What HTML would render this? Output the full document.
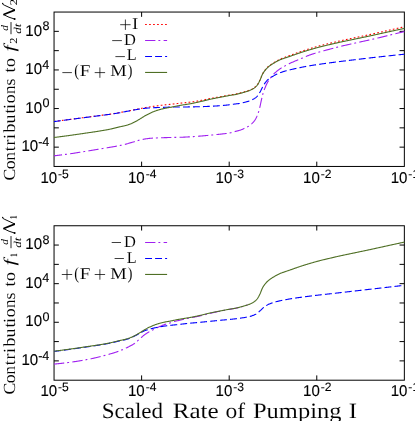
<!DOCTYPE html>
<html><head><meta charset="utf-8"><title>plot</title>
<style>html,body{margin:0;padding:0;background:#fff;}svg{display:block;}</style></head>
<body>
<svg width="415" height="421" viewBox="0 0 415 421" style="text-rendering:geometricPrecision;will-change:transform">
<rect width="415" height="421" fill="#fff"/>
<g stroke="#000" stroke-width="1.0" fill="none"><rect x="54.05" y="12.05" width="350.3" height="154.39999999999998"/><path d="M54.05,31.35h4.8 M404.35,31.35h-4.8"/><path d="M54.05,50.65h4.8 M404.35,50.65h-4.8"/><path d="M54.05,69.95h4.8 M404.35,69.95h-4.8"/><path d="M54.05,89.25h4.8 M404.35,89.25h-4.8"/><path d="M54.05,108.55h4.8 M404.35,108.55h-4.8"/><path d="M54.05,127.85h4.8 M404.35,127.85h-4.8"/><path d="M54.05,147.15h4.8 M404.35,147.15h-4.8"/><path d="M141.62,166.45v-4.8 M141.62,12.05v4.8"/><path d="M229.20,166.45v-4.8 M229.20,12.05v4.8"/><path d="M316.78,166.45v-4.8 M316.78,12.05v4.8"/></g>
<g stroke="#000" stroke-width="1.0" fill="none"><rect x="54.05" y="225.75" width="350.3" height="154.45"/><path d="M54.05,245.06h4.8 M404.35,245.06h-4.8"/><path d="M54.05,264.36h4.8 M404.35,264.36h-4.8"/><path d="M54.05,283.67h4.8 M404.35,283.67h-4.8"/><path d="M54.05,302.98h4.8 M404.35,302.98h-4.8"/><path d="M54.05,322.28h4.8 M404.35,322.28h-4.8"/><path d="M54.05,341.59h4.8 M404.35,341.59h-4.8"/><path d="M54.05,360.89h4.8 M404.35,360.89h-4.8"/><path d="M141.62,380.2v-4.8 M141.62,225.75v4.8"/><path d="M229.20,380.2v-4.8 M229.20,225.75v4.8"/><path d="M316.78,380.2v-4.8 M316.78,225.75v4.8"/></g>
<g fill="none" stroke-width="1.1" stroke-linejoin="round">
<path d="M54.0,121.51 L54.5,121.44 L55.0,121.37 L55.5,121.31 L56.0,121.24 L56.5,121.18 L57.0,121.11 L57.5,121.04 L58.0,120.98 L58.5,120.91 L59.0,120.85 L59.5,120.78 L60.0,120.71 L60.5,120.65 L61.0,120.58 L61.5,120.52 L62.0,120.45 L62.5,120.38 L63.0,120.32 L63.5,120.25 L64.0,120.19 L64.5,120.12 L65.0,120.06 L65.5,119.99 L66.0,119.92 L66.5,119.86 L67.0,119.79 L67.5,119.73 L68.0,119.66 L68.5,119.60 L69.0,119.53 L69.5,119.46 L70.0,119.40 L70.5,119.33 L71.0,119.27 L71.5,119.20 L72.0,119.14 L72.5,119.07 L73.0,119.01 L73.5,118.94 L74.0,118.88 L74.5,118.81 L75.0,118.75 L75.5,118.68 L76.0,118.62 L76.5,118.55 L77.0,118.48 L77.5,118.42 L78.0,118.35 L78.5,118.29 L79.0,118.22 L79.5,118.16 L80.0,118.09 L80.5,118.03 L81.0,117.96 L81.5,117.90 L82.0,117.83 L82.5,117.77 L83.0,117.70 L83.5,117.64 L84.0,117.57 L84.5,117.51 L85.0,117.44 L85.5,117.38 L86.0,117.31 L86.5,117.25 L87.0,117.18 L87.5,117.12 L88.0,117.05 L88.5,116.99 L89.0,116.92 L89.5,116.86 L90.0,116.79 L90.5,116.73 L91.0,116.66 L91.5,116.60 L92.0,116.53 L92.5,116.47 L93.0,116.40 L93.5,116.34 L94.0,116.27 L94.5,116.21 L95.0,116.14 L95.5,116.07 L96.0,116.01 L96.5,115.94 L97.0,115.88 L97.5,115.81 L98.0,115.75 L98.5,115.68 L99.0,115.62 L99.5,115.55 L100.0,115.49 L100.5,115.42 L101.0,115.36 L101.5,115.29 L102.0,115.23 L102.5,115.17 L103.0,115.10 L103.5,115.04 L104.0,114.98 L104.5,114.91 L105.0,114.85 L105.5,114.78 L106.0,114.72 L106.5,114.65 L107.0,114.59 L107.5,114.52 L108.0,114.45 L108.5,114.39 L109.0,114.32 L109.5,114.25 L110.0,114.17 L110.5,114.10 L111.0,114.03 L111.5,113.95 L112.0,113.88 L112.5,113.80 L113.0,113.72 L113.5,113.64 L114.0,113.57 L114.5,113.49 L115.0,113.41 L115.5,113.32 L116.0,113.24 L116.5,113.16 L117.0,113.07 L117.5,112.99 L118.0,112.90 L118.5,112.81 L119.0,112.73 L119.5,112.64 L120.0,112.55 L120.5,112.45 L121.0,112.36 L121.5,112.26 L122.0,112.15 L122.5,112.05 L123.0,111.95 L123.5,111.84 L124.0,111.74 L124.5,111.64 L125.0,111.54 L125.5,111.45 L126.0,111.36 L126.5,111.26 L127.0,111.17 L127.5,111.08 L128.1,110.99 L128.6,110.90 L129.1,110.81 L129.6,110.71 L130.1,110.62 L130.6,110.52 L131.1,110.41 L131.6,110.30 L132.1,110.19 L132.6,110.08 L133.1,109.97 L133.6,109.87 L134.1,109.76 L134.6,109.66 L135.1,109.56 L135.6,109.46 L136.1,109.36 L136.6,109.27 L137.1,109.17 L137.6,109.08 L138.1,108.99 L138.6,108.89 L139.1,108.80 L139.6,108.70 L140.1,108.61 L140.6,108.51 L141.1,108.42 L141.6,108.32 L142.1,108.21 L142.6,108.11 L143.1,108.01 L143.6,107.92 L144.1,107.82 L144.6,107.73 L145.1,107.64 L145.6,107.56 L146.1,107.48 L146.6,107.39 L147.1,107.31 L147.6,107.23 L148.1,107.16 L148.6,107.08 L149.1,107.00 L149.6,106.92 L150.1,106.85 L150.6,106.77 L151.1,106.70 L151.6,106.62 L152.1,106.55 L152.6,106.48 L153.1,106.40 L153.6,106.33 L154.1,106.26 L154.6,106.19 L155.1,106.12 L155.6,106.04 L156.1,105.97 L156.6,105.90 L157.1,105.84 L157.6,105.77 L158.1,105.70 L158.6,105.63 L159.1,105.57 L159.6,105.50 L160.1,105.44 L160.6,105.38 L161.1,105.32 L161.6,105.26 L162.1,105.20 L162.6,105.14 L163.1,105.08 L163.6,105.02 L164.1,104.97 L164.6,104.91 L165.1,104.86 L165.6,104.80 L166.1,104.75 L166.6,104.70 L167.1,104.64 L167.6,104.59 L168.1,104.54 L168.6,104.49 L169.1,104.44 L169.6,104.39 L170.1,104.34 L170.6,104.29 L171.1,104.23 L171.6,104.18 L172.1,104.13 L172.6,104.07 L173.1,104.02 L173.6,103.96 L174.1,103.90 L174.6,103.85 L175.1,103.79 L175.6,103.73 L176.1,103.67 L176.6,103.61 L177.1,103.56 L177.6,103.50 L178.1,103.44 L178.6,103.38 L179.1,103.32 L179.6,103.27 L180.1,103.21 L180.6,103.16 L181.1,103.11 L181.6,103.05 L182.1,103.00 L182.6,102.95 L183.1,102.90 L183.6,102.85 L184.1,102.80 L184.6,102.76 L185.1,102.71 L185.6,102.66 L186.1,102.61 L186.6,102.55 L187.1,102.50 L187.6,102.45 L188.1,102.39 L188.6,102.34 L189.1,102.28 L189.6,102.22 L190.1,102.16 L190.6,102.09 L191.1,102.03 L191.6,101.96 L192.1,101.89 L192.6,101.82 L193.1,101.74 L193.6,101.67 L194.1,101.59 L194.6,101.51 L195.1,101.43 L195.6,101.35 L196.1,101.27 L196.6,101.19 L197.1,101.10 L197.6,101.02 L198.1,100.93 L198.6,100.84 L199.1,100.76 L199.6,100.67 L200.1,100.58 L200.6,100.49 L201.1,100.40 L201.6,100.30 L202.1,100.20 L202.6,100.10 L203.1,100.00 L203.6,99.90 L204.1,99.80 L204.6,99.69 L205.1,99.59 L205.6,99.49 L206.1,99.38 L206.6,99.28 L207.1,99.17 L207.6,99.07 L208.1,98.96 L208.6,98.86 L209.1,98.76 L209.6,98.66 L210.1,98.57 L210.6,98.47 L211.1,98.38 L211.6,98.28 L212.1,98.19 L212.6,98.10 L213.1,98.01 L213.6,97.92 L214.1,97.83 L214.6,97.74 L215.1,97.65 L215.6,97.56 L216.1,97.47 L216.6,97.38 L217.1,97.30 L217.6,97.21 L218.1,97.12 L218.6,97.03 L219.1,96.94 L219.6,96.85 L220.1,96.76 L220.6,96.67 L221.1,96.58 L221.6,96.49 L222.1,96.40 L222.6,96.30 L223.1,96.21 L223.6,96.12 L224.1,96.03 L224.6,95.93 L225.1,95.84 L225.6,95.75 L226.1,95.66 L226.6,95.57 L227.1,95.48 L227.6,95.39 L228.1,95.30 L228.6,95.21 L229.1,95.13 L229.6,95.04 L230.1,94.96 L230.6,94.88 L231.1,94.80 L231.6,94.72 L232.1,94.65 L232.6,94.58 L233.1,94.50 L233.6,94.42 L234.1,94.34 L234.6,94.26 L235.1,94.17 L235.6,94.07 L236.1,93.97 L236.6,93.86 L237.1,93.75 L237.6,93.63 L238.1,93.51 L238.6,93.39 L239.1,93.27 L239.6,93.14 L240.1,93.02 L240.6,92.89 L241.1,92.76 L241.6,92.63 L242.1,92.50 L242.6,92.36 L243.1,92.22 L243.6,92.08 L244.1,91.93 L244.6,91.78 L245.1,91.63 L245.6,91.48 L246.1,91.33 L246.6,91.18 L247.1,91.02 L247.6,90.86 L248.1,90.70 L248.6,90.53 L249.1,90.34 L249.6,90.15 L250.1,89.94 L250.6,89.72 L251.1,89.49 L251.6,89.25 L252.1,88.99 L252.6,88.71 L253.1,88.42 L253.6,88.11 L254.1,87.78 L254.6,87.42 L255.1,87.05 L255.6,86.62 L256.1,86.14 L256.6,85.60 L257.1,85.00 L257.6,84.35 L258.1,83.60 L258.6,82.73 L259.1,81.78 L259.6,80.78 L260.1,79.75 L260.6,78.60 L261.1,77.33 L261.6,76.04 L262.1,74.83 L262.6,73.80 L263.1,72.92 L263.6,72.12 L264.1,71.37 L264.6,70.68 L265.1,70.02 L265.6,69.40 L266.1,68.80 L266.6,68.24 L267.1,67.71 L267.6,67.22 L268.1,66.77 L268.6,66.34 L269.1,65.94 L269.6,65.56 L270.1,65.18 L270.6,64.81 L271.1,64.45 L271.6,64.10 L272.1,63.75 L272.6,63.42 L273.1,63.09 L273.6,62.77 L274.1,62.46 L274.6,62.15 L275.1,61.85 L275.6,61.55 L276.1,61.26 L276.6,60.97 L277.1,60.69 L277.6,60.41 L278.1,60.14 L278.6,59.87 L279.1,59.62 L279.6,59.38 L280.1,59.15 L280.6,58.93 L281.1,58.72 L281.6,58.52 L282.1,58.33 L282.6,58.15 L283.1,57.96 L283.6,57.78 L284.1,57.60 L284.6,57.42 L285.1,57.23 L285.6,57.05 L286.1,56.86 L286.6,56.68 L287.1,56.50 L287.6,56.32 L288.1,56.14 L288.6,55.96 L289.1,55.78 L289.6,55.60 L290.1,55.42 L290.6,55.24 L291.1,55.06 L291.6,54.88 L292.1,54.70 L292.6,54.51 L293.1,54.33 L293.6,54.15 L294.1,53.97 L294.6,53.78 L295.1,53.60 L295.6,53.42 L296.1,53.24 L296.6,53.06 L297.1,52.88 L297.6,52.70 L298.1,52.52 L298.6,52.34 L299.1,52.17 L299.6,52.00 L300.1,51.82 L300.6,51.65 L301.1,51.48 L301.6,51.31 L302.1,51.14 L302.6,50.98 L303.1,50.81 L303.6,50.64 L304.1,50.47 L304.6,50.31 L305.1,50.14 L305.6,49.98 L306.1,49.81 L306.6,49.65 L307.1,49.49 L307.6,49.33 L308.1,49.17 L308.6,49.01 L309.1,48.86 L309.6,48.70 L310.1,48.55 L310.6,48.40 L311.1,48.25 L311.6,48.10 L312.1,47.95 L312.6,47.80 L313.1,47.65 L313.6,47.51 L314.1,47.36 L314.6,47.22 L315.1,47.07 L315.6,46.93 L316.1,46.79 L316.6,46.65 L317.1,46.51 L317.6,46.37 L318.1,46.24 L318.6,46.10 L319.1,45.97 L319.6,45.83 L320.1,45.70 L320.6,45.57 L321.1,45.44 L321.6,45.31 L322.1,45.19 L322.6,45.06 L323.1,44.93 L323.6,44.81 L324.1,44.69 L324.6,44.57 L325.1,44.44 L325.6,44.32 L326.1,44.20 L326.6,44.08 L327.1,43.96 L327.6,43.84 L328.1,43.72 L328.6,43.60 L329.1,43.48 L329.6,43.36 L330.1,43.24 L330.6,43.12 L331.1,43.00 L331.6,42.88 L332.1,42.76 L332.6,42.64 L333.1,42.52 L333.6,42.40 L334.1,42.28 L334.6,42.16 L335.1,42.04 L335.6,41.92 L336.1,41.80 L336.6,41.68 L337.1,41.56 L337.6,41.45 L338.1,41.33 L338.6,41.22 L339.1,41.10 L339.6,40.99 L340.1,40.87 L340.6,40.76 L341.1,40.65 L341.6,40.54 L342.1,40.43 L342.6,40.32 L343.1,40.21 L343.6,40.11 L344.1,40.00 L344.6,39.89 L345.1,39.79 L345.6,39.68 L346.1,39.57 L346.6,39.47 L347.1,39.36 L347.6,39.26 L348.1,39.15 L348.6,39.05 L349.1,38.94 L349.6,38.83 L350.1,38.73 L350.6,38.62 L351.1,38.51 L351.6,38.41 L352.1,38.30 L352.6,38.19 L353.1,38.09 L353.6,37.98 L354.1,37.88 L354.6,37.77 L355.1,37.66 L355.6,37.56 L356.1,37.45 L356.6,37.35 L357.1,37.24 L357.6,37.13 L358.1,37.03 L358.6,36.92 L359.1,36.82 L359.6,36.71 L360.1,36.60 L360.6,36.50 L361.1,36.39 L361.6,36.29 L362.1,36.18 L362.6,36.08 L363.1,35.97 L363.6,35.87 L364.1,35.76 L364.6,35.65 L365.1,35.55 L365.6,35.44 L366.1,35.34 L366.6,35.23 L367.1,35.12 L367.6,35.02 L368.1,34.91 L368.6,34.80 L369.1,34.70 L369.6,34.59 L370.1,34.48 L370.6,34.37 L371.1,34.26 L371.6,34.15 L372.1,34.04 L372.6,33.93 L373.1,33.82 L373.6,33.71 L374.1,33.60 L374.6,33.49 L375.1,33.38 L375.6,33.27 L376.1,33.15 L376.6,33.04 L377.1,32.93 L377.6,32.82 L378.1,32.71 L378.6,32.59 L379.1,32.48 L379.6,32.37 L380.1,32.26 L380.6,32.14 L381.1,32.03 L381.6,31.92 L382.1,31.80 L382.6,31.69 L383.1,31.57 L383.6,31.46 L384.1,31.34 L384.6,31.23 L385.1,31.11 L385.6,31.00 L386.1,30.88 L386.6,30.77 L387.1,30.65 L387.6,30.54 L388.1,30.42 L388.6,30.31 L389.1,30.20 L389.6,30.08 L390.1,29.97 L390.6,29.86 L391.1,29.74 L391.6,29.63 L392.1,29.52 L392.6,29.41 L393.1,29.29 L393.6,29.18 L394.1,29.07 L394.6,28.96 L395.1,28.85 L395.6,28.74 L396.1,28.62 L396.6,28.51 L397.1,28.40 L397.6,28.29 L398.1,28.18 L398.6,28.07 L399.1,27.96 L399.6,27.85 L400.1,27.74 L400.6,27.63 L401.1,27.51 L401.6,27.40 L402.1,27.29 L402.6,27.18 L403.1,27.08 L403.6,26.97 L404.4,26.79" stroke="#ff0000" stroke-dasharray="1.7 2.3"/>
<path d="M54.0,155.80 L54.5,155.74 L55.0,155.69 L55.5,155.63 L56.0,155.58 L56.5,155.52 L57.0,155.46 L57.5,155.40 L58.0,155.34 L58.5,155.28 L59.0,155.22 L59.5,155.16 L60.0,155.10 L60.5,155.04 L61.0,154.98 L61.5,154.92 L62.0,154.86 L62.5,154.79 L63.0,154.73 L63.5,154.67 L64.0,154.60 L64.5,154.54 L65.0,154.47 L65.5,154.41 L66.0,154.34 L66.5,154.27 L67.0,154.21 L67.5,154.14 L68.0,154.07 L68.5,154.00 L69.0,153.93 L69.5,153.86 L70.0,153.79 L70.5,153.72 L71.0,153.65 L71.5,153.58 L72.0,153.51 L72.5,153.43 L73.0,153.36 L73.5,153.28 L74.0,153.21 L74.5,153.13 L75.0,153.05 L75.5,152.97 L76.0,152.89 L76.5,152.81 L77.0,152.74 L77.5,152.65 L78.0,152.57 L78.5,152.49 L79.0,152.41 L79.5,152.33 L80.0,152.25 L80.5,152.17 L81.0,152.08 L81.5,152.00 L82.0,151.92 L82.5,151.83 L83.0,151.75 L83.5,151.67 L84.0,151.58 L84.5,151.50 L85.0,151.42 L85.5,151.33 L86.0,151.25 L86.5,151.17 L87.0,151.08 L87.5,151.00 L88.0,150.92 L88.5,150.84 L89.0,150.75 L89.5,150.67 L90.0,150.59 L90.5,150.51 L91.0,150.43 L91.5,150.35 L92.0,150.27 L92.5,150.19 L93.0,150.11 L93.5,150.02 L94.0,149.94 L94.5,149.86 L95.0,149.78 L95.5,149.70 L96.0,149.62 L96.5,149.54 L97.0,149.46 L97.5,149.38 L98.0,149.29 L98.5,149.21 L99.0,149.13 L99.5,149.05 L100.0,148.97 L100.5,148.89 L101.0,148.80 L101.5,148.72 L102.0,148.64 L102.5,148.56 L103.0,148.47 L103.5,148.39 L104.0,148.31 L104.5,148.23 L105.0,148.14 L105.5,148.06 L106.0,147.97 L106.5,147.89 L107.0,147.80 L107.5,147.72 L108.0,147.63 L108.5,147.55 L109.0,147.46 L109.5,147.38 L110.0,147.29 L110.5,147.21 L111.0,147.12 L111.5,147.03 L112.0,146.95 L112.5,146.86 L113.0,146.77 L113.5,146.69 L114.0,146.60 L114.5,146.51 L115.0,146.43 L115.5,146.34 L116.0,146.25 L116.5,146.16 L117.0,146.06 L117.5,145.97 L118.0,145.88 L118.5,145.78 L119.0,145.69 L119.5,145.59 L120.0,145.49 L120.5,145.39 L121.0,145.29 L121.5,145.18 L122.0,145.08 L122.5,144.97 L123.0,144.86 L123.5,144.75 L124.0,144.63 L124.5,144.51 L125.0,144.39 L125.5,144.25 L126.0,144.11 L126.5,143.97 L127.0,143.81 L127.5,143.66 L128.1,143.50 L128.6,143.34 L129.1,143.19 L129.6,143.03 L130.1,142.89 L130.6,142.74 L131.1,142.60 L131.6,142.46 L132.1,142.32 L132.6,142.19 L133.1,142.05 L133.6,141.91 L134.1,141.77 L134.6,141.63 L135.1,141.49 L135.6,141.34 L136.1,141.18 L136.6,141.02 L137.1,140.86 L137.6,140.70 L138.1,140.55 L138.6,140.39 L139.1,140.25 L139.6,140.11 L140.1,139.99 L140.6,139.87 L141.1,139.76 L141.6,139.65 L142.1,139.54 L142.6,139.44 L143.1,139.35 L143.6,139.25 L144.1,139.16 L144.6,139.08 L145.1,138.99 L145.6,138.91 L146.1,138.83 L146.6,138.75 L147.1,138.67 L147.6,138.59 L148.1,138.52 L148.6,138.45 L149.1,138.39 L149.6,138.34 L150.1,138.30 L150.6,138.26 L151.1,138.22 L151.6,138.19 L152.1,138.15 L152.6,138.12 L153.1,138.10 L153.6,138.07 L154.1,138.05 L154.6,138.02 L155.1,138.00 L155.6,137.97 L156.1,137.95 L156.6,137.93 L157.1,137.91 L157.6,137.89 L158.1,137.87 L158.6,137.85 L159.1,137.83 L159.6,137.82 L160.1,137.80 L160.6,137.78 L161.1,137.76 L161.6,137.75 L162.1,137.73 L162.6,137.71 L163.1,137.70 L163.6,137.68 L164.1,137.67 L164.6,137.65 L165.1,137.63 L165.6,137.62 L166.1,137.61 L166.6,137.59 L167.1,137.58 L167.6,137.56 L168.1,137.55 L168.6,137.54 L169.1,137.52 L169.6,137.51 L170.1,137.50 L170.6,137.49 L171.1,137.48 L171.6,137.47 L172.1,137.46 L172.6,137.45 L173.1,137.44 L173.6,137.43 L174.1,137.42 L174.6,137.41 L175.1,137.40 L175.6,137.40 L176.1,137.39 L176.6,137.38 L177.1,137.37 L177.6,137.36 L178.1,137.35 L178.6,137.34 L179.1,137.33 L179.6,137.31 L180.1,137.30 L180.6,137.28 L181.1,137.27 L181.6,137.25 L182.1,137.23 L182.6,137.21 L183.1,137.18 L183.6,137.16 L184.1,137.14 L184.6,137.11 L185.1,137.08 L185.6,137.06 L186.1,137.03 L186.6,137.00 L187.1,136.97 L187.6,136.94 L188.1,136.91 L188.6,136.89 L189.1,136.86 L189.6,136.83 L190.1,136.80 L190.6,136.77 L191.1,136.74 L191.6,136.71 L192.1,136.67 L192.6,136.64 L193.1,136.61 L193.6,136.58 L194.1,136.54 L194.6,136.51 L195.1,136.47 L195.6,136.44 L196.1,136.40 L196.6,136.36 L197.1,136.33 L197.6,136.29 L198.1,136.25 L198.6,136.21 L199.1,136.17 L199.6,136.14 L200.1,136.10 L200.6,136.06 L201.1,136.02 L201.6,135.97 L202.1,135.93 L202.6,135.89 L203.1,135.85 L203.6,135.80 L204.1,135.76 L204.6,135.71 L205.1,135.67 L205.6,135.62 L206.1,135.57 L206.6,135.53 L207.1,135.48 L207.6,135.43 L208.1,135.38 L208.6,135.34 L209.1,135.29 L209.6,135.24 L210.1,135.20 L210.6,135.15 L211.1,135.10 L211.6,135.05 L212.1,135.01 L212.6,134.96 L213.1,134.91 L213.6,134.86 L214.1,134.82 L214.6,134.77 L215.1,134.72 L215.6,134.67 L216.1,134.62 L216.6,134.57 L217.1,134.52 L217.6,134.47 L218.1,134.41 L218.6,134.36 L219.1,134.31 L219.6,134.25 L220.1,134.19 L220.6,134.14 L221.1,134.08 L221.6,134.03 L222.1,133.97 L222.6,133.92 L223.1,133.86 L223.6,133.81 L224.1,133.75 L224.6,133.69 L225.1,133.63 L225.6,133.57 L226.1,133.51 L226.6,133.44 L227.1,133.37 L227.6,133.30 L228.1,133.23 L228.6,133.15 L229.1,133.07 L229.6,132.98 L230.1,132.89 L230.6,132.79 L231.1,132.67 L231.6,132.53 L232.1,132.39 L232.6,132.24 L233.1,132.08 L233.6,131.93 L234.1,131.77 L234.6,131.63 L235.1,131.49 L235.6,131.36 L236.1,131.23 L236.6,131.11 L237.1,130.99 L237.6,130.87 L238.1,130.75 L238.6,130.62 L239.1,130.49 L239.6,130.34 L240.1,130.18 L240.6,130.01 L241.1,129.82 L241.6,129.62 L242.1,129.40 L242.6,129.18 L243.1,128.95 L243.6,128.71 L244.1,128.47 L244.6,128.22 L245.1,127.98 L245.6,127.73 L246.1,127.48 L246.6,127.23 L247.1,126.98 L247.6,126.71 L248.1,126.44 L248.6,126.15 L249.1,125.84 L249.6,125.51 L250.1,125.16 L250.6,124.78 L251.1,124.35 L251.6,123.89 L252.1,123.40 L252.6,122.88 L253.1,122.35 L253.6,121.79 L254.1,121.20 L254.6,120.55 L255.1,119.82 L255.6,118.99 L256.1,118.04 L256.6,117.00 L257.1,115.89 L257.6,114.68 L258.1,113.34 L258.6,111.84 L259.1,110.11 L259.6,108.17 L260.1,106.09 L260.6,103.74 L261.1,101.38 L261.6,99.17 L262.1,97.10 L262.6,95.10 L263.1,93.21 L263.6,91.55 L264.1,90.14 L264.6,88.88 L265.1,87.68 L265.6,86.48 L266.1,85.31 L266.6,84.19 L267.1,83.15 L267.6,82.21 L268.1,81.38 L268.6,80.62 L269.1,79.91 L269.6,79.22 L270.1,78.53 L270.6,77.83 L271.1,77.14 L271.6,76.47 L272.1,75.83 L272.6,75.24 L273.1,74.69 L273.6,74.18 L274.1,73.68 L274.6,73.21 L275.1,72.76 L275.6,72.31 L276.1,71.87 L276.6,71.44 L277.1,71.03 L277.6,70.62 L278.1,70.22 L278.6,69.84 L279.1,69.47 L279.6,69.11 L280.1,68.77 L280.6,68.44 L281.1,68.12 L281.6,67.82 L282.1,67.53 L282.6,67.24 L283.1,66.97 L283.6,66.69 L284.1,66.42 L284.6,66.15 L285.1,65.87 L285.6,65.60 L286.1,65.33 L286.6,65.06 L287.1,64.79 L287.6,64.53 L288.1,64.27 L288.6,64.01 L289.1,63.76 L289.6,63.52 L290.1,63.28 L290.6,63.04 L291.1,62.81 L291.6,62.59 L292.1,62.37 L292.6,62.15 L293.1,61.93 L293.6,61.72 L294.1,61.51 L294.6,61.29 L295.1,61.08 L295.6,60.86 L296.1,60.65 L296.6,60.44 L297.1,60.23 L297.6,60.02 L298.1,59.81 L298.6,59.60 L299.1,59.39 L299.6,59.19 L300.1,58.98 L300.6,58.77 L301.1,58.56 L301.6,58.35 L302.1,58.13 L302.6,57.92 L303.1,57.70 L303.6,57.49 L304.1,57.28 L304.6,57.06 L305.1,56.85 L305.6,56.64 L306.1,56.43 L306.6,56.23 L307.1,56.02 L307.6,55.82 L308.1,55.63 L308.6,55.43 L309.1,55.24 L309.6,55.06 L310.1,54.88 L310.6,54.71 L311.1,54.54 L311.6,54.37 L312.1,54.20 L312.6,54.04 L313.1,53.88 L313.6,53.72 L314.1,53.56 L314.6,53.41 L315.1,53.25 L315.6,53.10 L316.1,52.95 L316.6,52.80 L317.1,52.66 L317.6,52.51 L318.1,52.36 L318.6,52.22 L319.1,52.07 L319.6,51.93 L320.1,51.79 L320.6,51.64 L321.1,51.50 L321.6,51.36 L322.1,51.22 L322.6,51.08 L323.1,50.95 L323.6,50.81 L324.1,50.67 L324.6,50.54 L325.1,50.41 L325.6,50.27 L326.1,50.14 L326.6,50.01 L327.1,49.88 L327.6,49.75 L328.1,49.61 L328.6,49.48 L329.1,49.35 L329.6,49.22 L330.1,49.09 L330.6,48.95 L331.1,48.82 L331.6,48.69 L332.1,48.56 L332.6,48.42 L333.1,48.29 L333.6,48.16 L334.1,48.02 L334.6,47.89 L335.1,47.76 L335.6,47.63 L336.1,47.50 L336.6,47.37 L337.1,47.24 L337.6,47.11 L338.1,46.99 L338.6,46.86 L339.1,46.73 L339.6,46.61 L340.1,46.49 L340.6,46.37 L341.1,46.25 L341.6,46.13 L342.1,46.01 L342.6,45.89 L343.1,45.77 L343.6,45.66 L344.1,45.54 L344.6,45.43 L345.1,45.31 L345.6,45.20 L346.1,45.09 L346.6,44.97 L347.1,44.86 L347.6,44.75 L348.1,44.64 L348.6,44.53 L349.1,44.41 L349.6,44.30 L350.1,44.19 L350.6,44.08 L351.1,43.96 L351.6,43.85 L352.1,43.74 L352.6,43.63 L353.1,43.52 L353.6,43.41 L354.1,43.30 L354.6,43.19 L355.1,43.08 L355.6,42.97 L356.1,42.86 L356.6,42.76 L357.1,42.65 L357.6,42.54 L358.1,42.43 L358.6,42.32 L359.1,42.21 L359.6,42.10 L360.1,41.99 L360.6,41.88 L361.1,41.77 L361.6,41.66 L362.1,41.55 L362.6,41.44 L363.1,41.33 L363.6,41.22 L364.1,41.11 L364.6,41.00 L365.1,40.90 L365.6,40.79 L366.1,40.68 L366.6,40.57 L367.1,40.46 L367.6,40.35 L368.1,40.24 L368.6,40.12 L369.1,40.01 L369.6,39.90 L370.1,39.79 L370.6,39.68 L371.1,39.56 L371.6,39.45 L372.1,39.34 L372.6,39.23 L373.1,39.11 L373.6,39.00 L374.1,38.89 L374.6,38.77 L375.1,38.66 L375.6,38.54 L376.1,38.43 L376.6,38.31 L377.1,38.20 L377.6,38.08 L378.1,37.96 L378.6,37.84 L379.1,37.73 L379.6,37.61 L380.1,37.49 L380.6,37.37 L381.1,37.25 L381.6,37.12 L382.1,37.00 L382.6,36.87 L383.1,36.75 L383.6,36.62 L384.1,36.50 L384.6,36.37 L385.1,36.24 L385.6,36.12 L386.1,35.99 L386.6,35.86 L387.1,35.73 L387.6,35.61 L388.1,35.48 L388.6,35.36 L389.1,35.23 L389.6,35.11 L390.1,34.99 L390.6,34.87 L391.1,34.74 L391.6,34.62 L392.1,34.50 L392.6,34.38 L393.1,34.26 L393.6,34.14 L394.1,34.02 L394.6,33.90 L395.1,33.78 L395.6,33.66 L396.1,33.54 L396.6,33.42 L397.1,33.30 L397.6,33.19 L398.1,33.07 L398.6,32.95 L399.1,32.83 L399.6,32.71 L400.1,32.60 L400.6,32.48 L401.1,32.36 L401.6,32.25 L402.1,32.13 L402.6,32.01 L403.1,31.90 L403.6,31.78 L404.4,31.60" stroke="#a020f0" stroke-dasharray="10.3 3 1.9 3.3" stroke-dashoffset="2.2"/>
<path d="M54.0,121.60 L54.5,121.53 L55.0,121.47 L55.5,121.40 L56.0,121.34 L56.5,121.27 L57.0,121.20 L57.5,121.14 L58.0,121.07 L58.5,121.01 L59.0,120.94 L59.5,120.87 L60.0,120.81 L60.5,120.74 L61.0,120.68 L61.5,120.61 L62.0,120.54 L62.5,120.48 L63.0,120.41 L63.5,120.35 L64.0,120.28 L64.5,120.21 L65.0,120.15 L65.5,120.08 L66.0,120.02 L66.5,119.95 L67.0,119.89 L67.5,119.82 L68.0,119.76 L68.5,119.69 L69.0,119.62 L69.5,119.56 L70.0,119.49 L70.5,119.43 L71.0,119.36 L71.5,119.30 L72.0,119.23 L72.5,119.17 L73.0,119.10 L73.5,119.04 L74.0,118.97 L74.5,118.91 L75.0,118.84 L75.5,118.78 L76.0,118.71 L76.5,118.65 L77.0,118.58 L77.5,118.52 L78.0,118.45 L78.5,118.39 L79.0,118.32 L79.5,118.26 L80.0,118.19 L80.5,118.13 L81.0,118.06 L81.5,118.00 L82.0,117.93 L82.5,117.87 L83.0,117.80 L83.5,117.74 L84.0,117.67 L84.5,117.61 L85.0,117.54 L85.5,117.48 L86.0,117.41 L86.5,117.35 L87.0,117.28 L87.5,117.22 L88.0,117.15 L88.5,117.09 L89.0,117.02 L89.5,116.96 L90.0,116.89 L90.5,116.83 L91.0,116.76 L91.5,116.70 L92.0,116.63 L92.5,116.57 L93.0,116.50 L93.5,116.44 L94.0,116.37 L94.5,116.31 L95.0,116.24 L95.5,116.18 L96.0,116.11 L96.5,116.05 L97.0,115.98 L97.5,115.92 L98.0,115.85 L98.5,115.79 L99.0,115.72 L99.5,115.66 L100.0,115.59 L100.5,115.53 L101.0,115.46 L101.5,115.40 L102.0,115.34 L102.5,115.28 L103.0,115.21 L103.5,115.15 L104.0,115.09 L104.5,115.02 L105.0,114.96 L105.5,114.90 L106.0,114.83 L106.5,114.77 L107.0,114.70 L107.5,114.64 L108.0,114.57 L108.5,114.50 L109.0,114.43 L109.5,114.36 L110.0,114.29 L110.5,114.22 L111.0,114.15 L111.5,114.07 L112.0,114.00 L112.5,113.93 L113.0,113.85 L113.5,113.77 L114.0,113.70 L114.5,113.62 L115.0,113.54 L115.5,113.46 L116.0,113.38 L116.5,113.29 L117.0,113.21 L117.5,113.13 L118.0,113.04 L118.5,112.96 L119.0,112.87 L119.5,112.78 L120.0,112.69 L120.5,112.60 L121.0,112.50 L121.5,112.40 L122.0,112.30 L122.5,112.20 L123.0,112.09 L123.5,111.99 L124.0,111.89 L124.5,111.79 L125.0,111.69 L125.5,111.60 L126.0,111.51 L126.5,111.42 L127.0,111.33 L127.5,111.24 L128.1,111.15 L128.6,111.07 L129.1,110.98 L129.6,110.88 L130.1,110.79 L130.6,110.69 L131.1,110.59 L131.6,110.49 L132.1,110.39 L132.6,110.28 L133.1,110.18 L133.6,110.08 L134.1,109.98 L134.6,109.88 L135.1,109.79 L135.6,109.70 L136.1,109.62 L136.6,109.54 L137.1,109.45 L137.6,109.37 L138.1,109.30 L138.6,109.22 L139.1,109.14 L139.6,109.07 L140.1,108.99 L140.6,108.92 L141.1,108.84 L141.6,108.76 L142.1,108.69 L142.6,108.61 L143.1,108.54 L143.6,108.47 L144.1,108.41 L144.6,108.35 L145.1,108.29 L145.6,108.25 L146.1,108.20 L146.6,108.15 L147.1,108.11 L147.6,108.07 L148.1,108.03 L148.6,108.00 L149.1,107.96 L149.6,107.93 L150.1,107.90 L150.6,107.87 L151.1,107.84 L151.6,107.81 L152.1,107.79 L152.6,107.76 L153.1,107.74 L153.6,107.71 L154.1,107.69 L154.6,107.67 L155.1,107.65 L155.6,107.63 L156.1,107.60 L156.6,107.58 L157.1,107.56 L157.6,107.54 L158.1,107.52 L158.6,107.50 L159.1,107.48 L159.6,107.47 L160.1,107.45 L160.6,107.43 L161.1,107.42 L161.6,107.40 L162.1,107.39 L162.6,107.37 L163.1,107.36 L163.6,107.35 L164.1,107.33 L164.6,107.31 L165.1,107.30 L165.6,107.28 L166.1,107.26 L166.6,107.23 L167.1,107.21 L167.6,107.19 L168.1,107.16 L168.6,107.14 L169.1,107.12 L169.6,107.11 L170.1,107.10 L170.6,107.09 L171.1,107.08 L171.6,107.08 L172.1,107.07 L172.6,107.06 L173.1,107.06 L173.6,107.05 L174.1,107.05 L174.6,107.04 L175.1,107.04 L175.6,107.04 L176.1,107.03 L176.6,107.03 L177.1,107.03 L177.6,107.02 L178.1,107.02 L178.6,107.01 L179.1,107.01 L179.6,107.00 L180.1,107.00 L180.6,106.99 L181.1,106.99 L181.6,106.99 L182.1,106.98 L182.6,106.98 L183.1,106.97 L183.6,106.97 L184.1,106.96 L184.6,106.96 L185.1,106.95 L185.6,106.95 L186.1,106.94 L186.6,106.94 L187.1,106.93 L187.6,106.93 L188.1,106.92 L188.6,106.92 L189.1,106.91 L189.6,106.91 L190.1,106.90 L190.6,106.89 L191.1,106.89 L191.6,106.88 L192.1,106.87 L192.6,106.86 L193.1,106.85 L193.6,106.84 L194.1,106.84 L194.6,106.83 L195.1,106.82 L195.6,106.81 L196.1,106.79 L196.6,106.78 L197.1,106.77 L197.6,106.76 L198.1,106.75 L198.6,106.74 L199.1,106.72 L199.6,106.71 L200.1,106.70 L200.6,106.68 L201.1,106.67 L201.6,106.65 L202.1,106.64 L202.6,106.62 L203.1,106.60 L203.6,106.58 L204.1,106.56 L204.6,106.55 L205.1,106.52 L205.6,106.50 L206.1,106.48 L206.6,106.46 L207.1,106.44 L207.6,106.42 L208.1,106.39 L208.6,106.37 L209.1,106.35 L209.6,106.32 L210.1,106.30 L210.6,106.27 L211.1,106.25 L211.6,106.22 L212.1,106.20 L212.6,106.17 L213.1,106.14 L213.6,106.12 L214.1,106.09 L214.6,106.06 L215.1,106.03 L215.6,106.00 L216.1,105.97 L216.6,105.94 L217.1,105.91 L217.6,105.87 L218.1,105.84 L218.6,105.81 L219.1,105.77 L219.6,105.73 L220.1,105.70 L220.6,105.66 L221.1,105.62 L221.6,105.58 L222.1,105.53 L222.6,105.49 L223.1,105.44 L223.6,105.40 L224.1,105.35 L224.6,105.30 L225.1,105.25 L225.6,105.20 L226.1,105.15 L226.6,105.09 L227.1,105.04 L227.6,104.98 L228.1,104.93 L228.6,104.87 L229.1,104.81 L229.6,104.75 L230.1,104.69 L230.6,104.63 L231.1,104.56 L231.6,104.50 L232.1,104.42 L232.6,104.35 L233.1,104.27 L233.6,104.20 L234.1,104.13 L234.6,104.06 L235.1,103.99 L235.6,103.93 L236.1,103.87 L236.6,103.82 L237.1,103.77 L237.6,103.71 L238.1,103.66 L238.6,103.60 L239.1,103.54 L239.6,103.47 L240.1,103.39 L240.6,103.30 L241.1,103.21 L241.6,103.10 L242.1,102.98 L242.6,102.85 L243.1,102.72 L243.6,102.59 L244.1,102.46 L244.6,102.32 L245.1,102.19 L245.6,102.05 L246.1,101.92 L246.6,101.79 L247.1,101.65 L247.6,101.51 L248.1,101.36 L248.6,101.20 L249.1,101.04 L249.6,100.87 L250.1,100.68 L250.6,100.48 L251.1,100.27 L251.6,100.05 L252.1,99.81 L252.6,99.56 L253.1,99.29 L253.6,99.01 L254.1,98.71 L254.6,98.40 L255.1,98.07 L255.6,97.71 L256.1,97.31 L256.6,96.87 L257.1,96.38 L257.6,95.84 L258.1,95.20 L258.6,94.46 L259.1,93.64 L259.6,92.78 L260.1,91.91 L260.6,91.00 L261.1,90.02 L261.6,89.02 L262.1,88.04 L262.6,87.11 L263.1,86.21 L263.6,85.32 L264.1,84.47 L264.6,83.66 L265.1,82.93 L265.6,82.25 L266.1,81.60 L266.6,81.00 L267.1,80.45 L267.6,79.95 L268.1,79.52 L268.6,79.12 L269.1,78.75 L269.6,78.41 L270.1,78.07 L270.6,77.73 L271.1,77.40 L271.6,77.09 L272.1,76.77 L272.6,76.47 L273.1,76.18 L273.6,75.89 L274.1,75.61 L274.6,75.34 L275.1,75.07 L275.6,74.82 L276.1,74.57 L276.6,74.32 L277.1,74.08 L277.6,73.85 L278.1,73.62 L278.6,73.40 L279.1,73.19 L279.6,72.98 L280.1,72.78 L280.6,72.59 L281.1,72.40 L281.6,72.22 L282.1,72.04 L282.6,71.87 L283.1,71.71 L283.6,71.54 L284.1,71.39 L284.6,71.23 L285.1,71.09 L285.6,70.94 L286.1,70.80 L286.6,70.66 L287.1,70.53 L287.6,70.40 L288.1,70.28 L288.6,70.15 L289.1,70.03 L289.6,69.91 L290.1,69.79 L290.6,69.67 L291.1,69.55 L291.6,69.43 L292.1,69.32 L292.6,69.20 L293.1,69.09 L293.6,68.98 L294.1,68.86 L294.6,68.75 L295.1,68.64 L295.6,68.53 L296.1,68.43 L296.6,68.32 L297.1,68.21 L297.6,68.11 L298.1,68.00 L298.6,67.90 L299.1,67.79 L299.6,67.69 L300.1,67.59 L300.6,67.49 L301.1,67.39 L301.6,67.29 L302.1,67.19 L302.6,67.08 L303.1,66.99 L303.6,66.89 L304.1,66.79 L304.6,66.69 L305.1,66.60 L305.6,66.50 L306.1,66.41 L306.6,66.31 L307.1,66.22 L307.6,66.13 L308.1,66.04 L308.6,65.95 L309.1,65.86 L309.6,65.78 L310.1,65.69 L310.6,65.61 L311.1,65.53 L311.6,65.45 L312.1,65.37 L312.6,65.29 L313.1,65.21 L313.6,65.14 L314.1,65.06 L314.6,64.99 L315.1,64.91 L315.6,64.84 L316.1,64.77 L316.6,64.70 L317.1,64.62 L317.6,64.55 L318.1,64.48 L318.6,64.41 L319.1,64.34 L319.6,64.27 L320.1,64.19 L320.6,64.12 L321.1,64.05 L321.6,63.98 L322.1,63.91 L322.6,63.83 L323.1,63.76 L323.6,63.69 L324.1,63.62 L324.6,63.55 L325.1,63.48 L325.6,63.41 L326.1,63.34 L326.6,63.27 L327.1,63.20 L327.6,63.13 L328.1,63.06 L328.6,63.00 L329.1,62.93 L329.6,62.86 L330.1,62.79 L330.6,62.73 L331.1,62.66 L331.6,62.59 L332.1,62.53 L332.6,62.46 L333.1,62.39 L333.6,62.33 L334.1,62.26 L334.6,62.20 L335.1,62.13 L335.6,62.07 L336.1,62.00 L336.6,61.94 L337.1,61.87 L337.6,61.81 L338.1,61.75 L338.6,61.68 L339.1,61.62 L339.6,61.56 L340.1,61.49 L340.6,61.43 L341.1,61.37 L341.6,61.31 L342.1,61.25 L342.6,61.19 L343.1,61.13 L343.6,61.07 L344.1,61.01 L344.6,60.95 L345.1,60.89 L345.6,60.83 L346.1,60.77 L346.6,60.71 L347.1,60.65 L347.6,60.59 L348.1,60.53 L348.6,60.47 L349.1,60.41 L349.6,60.35 L350.1,60.29 L350.6,60.23 L351.1,60.17 L351.6,60.11 L352.1,60.05 L352.6,59.99 L353.1,59.93 L353.6,59.87 L354.1,59.81 L354.6,59.75 L355.1,59.69 L355.6,59.63 L356.1,59.57 L356.6,59.51 L357.1,59.45 L357.6,59.39 L358.1,59.33 L358.6,59.27 L359.1,59.21 L359.6,59.15 L360.1,59.09 L360.6,59.03 L361.1,58.97 L361.6,58.91 L362.1,58.85 L362.6,58.79 L363.1,58.73 L363.6,58.67 L364.1,58.61 L364.6,58.55 L365.1,58.49 L365.6,58.43 L366.1,58.37 L366.6,58.31 L367.1,58.25 L367.6,58.19 L368.1,58.13 L368.6,58.07 L369.1,58.01 L369.6,57.95 L370.1,57.89 L370.6,57.84 L371.1,57.78 L371.6,57.72 L372.1,57.67 L372.6,57.61 L373.1,57.56 L373.6,57.50 L374.1,57.45 L374.6,57.39 L375.1,57.34 L375.6,57.28 L376.1,57.23 L376.6,57.18 L377.1,57.12 L377.6,57.07 L378.1,57.01 L378.6,56.96 L379.1,56.90 L379.6,56.85 L380.1,56.79 L380.6,56.74 L381.1,56.68 L381.6,56.63 L382.1,56.57 L382.6,56.52 L383.1,56.46 L383.6,56.41 L384.1,56.35 L384.6,56.30 L385.1,56.24 L385.6,56.19 L386.1,56.13 L386.6,56.08 L387.1,56.02 L387.6,55.97 L388.1,55.91 L388.6,55.86 L389.1,55.80 L389.6,55.75 L390.1,55.69 L390.6,55.64 L391.1,55.59 L391.6,55.53 L392.1,55.48 L392.6,55.43 L393.1,55.37 L393.6,55.32 L394.1,55.27 L394.6,55.22 L395.1,55.16 L395.6,55.11 L396.1,55.06 L396.6,55.00 L397.1,54.95 L397.6,54.90 L398.1,54.85 L398.6,54.80 L399.1,54.74 L399.6,54.69 L400.1,54.64 L400.6,54.59 L401.1,54.54 L401.6,54.49 L402.1,54.43 L402.6,54.38 L403.1,54.33 L403.6,54.28 L404.4,54.20" stroke="#0000ff" stroke-dasharray="6.9 3.1"/>
<path d="M54.0,137.50 L54.5,137.44 L55.0,137.37 L55.5,137.31 L56.0,137.25 L56.5,137.18 L57.0,137.12 L57.5,137.06 L58.0,136.99 L58.5,136.93 L59.0,136.86 L59.5,136.80 L60.0,136.73 L60.5,136.67 L61.0,136.60 L61.5,136.54 L62.0,136.47 L62.5,136.40 L63.0,136.34 L63.5,136.27 L64.0,136.21 L64.5,136.14 L65.0,136.07 L65.5,136.01 L66.0,135.94 L66.5,135.87 L67.0,135.80 L67.5,135.74 L68.0,135.67 L68.5,135.60 L69.0,135.53 L69.5,135.46 L70.0,135.39 L70.5,135.32 L71.0,135.25 L71.5,135.19 L72.0,135.12 L72.5,135.05 L73.0,134.97 L73.5,134.90 L74.0,134.83 L74.5,134.76 L75.0,134.69 L75.5,134.62 L76.0,134.55 L76.5,134.48 L77.0,134.40 L77.5,134.33 L78.0,134.26 L78.5,134.19 L79.0,134.11 L79.5,134.04 L80.0,133.97 L80.5,133.89 L81.0,133.82 L81.5,133.75 L82.0,133.67 L82.5,133.60 L83.0,133.53 L83.5,133.45 L84.0,133.38 L84.5,133.31 L85.0,133.23 L85.5,133.16 L86.0,133.08 L86.5,133.01 L87.0,132.94 L87.5,132.86 L88.0,132.79 L88.5,132.71 L89.0,132.64 L89.5,132.57 L90.0,132.49 L90.5,132.42 L91.0,132.35 L91.5,132.27 L92.0,132.20 L92.5,132.13 L93.0,132.05 L93.5,131.98 L94.0,131.91 L94.5,131.84 L95.0,131.76 L95.5,131.69 L96.0,131.61 L96.5,131.54 L97.0,131.46 L97.5,131.39 L98.0,131.31 L98.5,131.23 L99.0,131.15 L99.5,131.07 L100.0,130.99 L100.5,130.91 L101.0,130.83 L101.5,130.74 L102.0,130.66 L102.5,130.58 L103.0,130.49 L103.5,130.41 L104.0,130.32 L104.5,130.23 L105.0,130.14 L105.5,130.05 L106.0,129.96 L106.5,129.87 L107.0,129.78 L107.5,129.68 L108.0,129.59 L108.5,129.49 L109.0,129.39 L109.5,129.29 L110.0,129.19 L110.5,129.08 L111.0,128.98 L111.5,128.86 L112.0,128.75 L112.5,128.63 L113.0,128.51 L113.5,128.39 L114.0,128.27 L114.5,128.14 L115.0,128.02 L115.5,127.89 L116.0,127.76 L116.5,127.64 L117.0,127.51 L117.5,127.39 L118.0,127.26 L118.5,127.14 L119.0,127.02 L119.5,126.90 L120.0,126.79 L120.5,126.68 L121.0,126.57 L121.5,126.47 L122.0,126.36 L122.5,126.26 L123.0,126.15 L123.5,126.05 L124.0,125.93 L124.5,125.81 L125.0,125.69 L125.5,125.55 L126.0,125.41 L126.5,125.27 L127.0,125.11 L127.5,124.96 L128.1,124.79 L128.6,124.62 L129.1,124.45 L129.6,124.27 L130.1,124.08 L130.6,123.89 L131.1,123.68 L131.6,123.47 L132.1,123.24 L132.6,123.01 L133.1,122.77 L133.6,122.53 L134.1,122.28 L134.6,122.03 L135.1,121.77 L135.6,121.51 L136.1,121.24 L136.6,120.96 L137.1,120.67 L137.6,120.37 L138.1,120.08 L138.6,119.78 L139.1,119.47 L139.6,119.17 L140.1,118.87 L140.6,118.57 L141.1,118.25 L141.6,117.94 L142.1,117.62 L142.6,117.30 L143.1,116.98 L143.6,116.67 L144.1,116.36 L144.6,116.06 L145.1,115.77 L145.6,115.49 L146.1,115.21 L146.6,114.94 L147.1,114.67 L147.6,114.41 L148.1,114.15 L148.6,113.90 L149.1,113.65 L149.6,113.41 L150.1,113.18 L150.6,112.95 L151.1,112.72 L151.6,112.50 L152.1,112.28 L152.6,112.07 L153.1,111.86 L153.6,111.65 L154.1,111.46 L154.6,111.27 L155.1,111.08 L155.6,110.90 L156.1,110.73 L156.6,110.56 L157.1,110.39 L157.6,110.23 L158.1,110.07 L158.6,109.92 L159.1,109.77 L159.6,109.63 L160.1,109.49 L160.6,109.35 L161.1,109.22 L161.6,109.09 L162.1,108.97 L162.6,108.85 L163.1,108.73 L163.6,108.61 L164.1,108.50 L164.6,108.39 L165.1,108.29 L165.6,108.19 L166.1,108.10 L166.6,108.00 L167.1,107.92 L167.6,107.83 L168.1,107.75 L168.6,107.66 L169.1,107.57 L169.6,107.48 L170.1,107.39 L170.6,107.30 L171.1,107.20 L171.6,107.10 L172.1,107.00 L172.6,106.90 L173.1,106.79 L173.6,106.69 L174.1,106.58 L174.6,106.48 L175.1,106.38 L175.6,106.27 L176.1,106.17 L176.6,106.07 L177.1,105.96 L177.6,105.86 L178.1,105.77 L178.6,105.67 L179.1,105.57 L179.6,105.48 L180.1,105.39 L180.6,105.30 L181.1,105.22 L181.6,105.14 L182.1,105.06 L182.6,104.98 L183.1,104.90 L183.6,104.82 L184.1,104.75 L184.6,104.67 L185.1,104.60 L185.6,104.52 L186.1,104.45 L186.6,104.37 L187.1,104.29 L187.6,104.21 L188.1,104.13 L188.6,104.05 L189.1,103.97 L189.6,103.88 L190.1,103.79 L190.6,103.70 L191.1,103.60 L191.6,103.51 L192.1,103.41 L192.6,103.31 L193.1,103.21 L193.6,103.11 L194.1,103.00 L194.6,102.90 L195.1,102.79 L195.6,102.68 L196.1,102.58 L196.6,102.47 L197.1,102.36 L197.6,102.25 L198.1,102.14 L198.6,102.02 L199.1,101.91 L199.6,101.80 L200.1,101.69 L200.6,101.58 L201.1,101.46 L201.6,101.34 L202.1,101.22 L202.6,101.10 L203.1,100.98 L203.6,100.85 L204.1,100.73 L204.6,100.61 L205.1,100.48 L205.6,100.36 L206.1,100.23 L206.6,100.11 L207.1,99.99 L207.6,99.86 L208.1,99.75 L208.6,99.63 L209.1,99.51 L209.6,99.40 L210.1,99.29 L210.6,99.18 L211.1,99.07 L211.6,98.97 L212.1,98.86 L212.6,98.76 L213.1,98.66 L213.6,98.56 L214.1,98.46 L214.6,98.36 L215.1,98.26 L215.6,98.16 L216.1,98.07 L216.6,97.97 L217.1,97.87 L217.6,97.77 L218.1,97.68 L218.6,97.58 L219.1,97.48 L219.6,97.39 L220.1,97.29 L220.6,97.19 L221.1,97.09 L221.6,97.00 L222.1,96.90 L222.6,96.80 L223.1,96.70 L223.6,96.60 L224.1,96.51 L224.6,96.41 L225.1,96.31 L225.6,96.22 L226.1,96.12 L226.6,96.03 L227.1,95.93 L227.6,95.84 L228.1,95.75 L228.6,95.66 L229.1,95.57 L229.6,95.48 L230.1,95.39 L230.6,95.31 L231.1,95.23 L231.6,95.15 L232.1,95.08 L232.6,95.00 L233.1,94.93 L233.6,94.85 L234.1,94.77 L234.6,94.68 L235.1,94.59 L235.6,94.49 L236.1,94.38 L236.6,94.27 L237.1,94.15 L237.6,94.03 L238.1,93.90 L238.6,93.78 L239.1,93.65 L239.6,93.52 L240.1,93.39 L240.6,93.26 L241.1,93.12 L241.6,92.99 L242.1,92.85 L242.6,92.72 L243.1,92.58 L243.6,92.43 L244.1,92.29 L244.6,92.14 L245.1,91.98 L245.6,91.83 L246.1,91.68 L246.6,91.53 L247.1,91.37 L247.6,91.21 L248.1,91.04 L248.6,90.87 L249.1,90.68 L249.6,90.49 L250.1,90.28 L250.6,90.06 L251.1,89.83 L251.6,89.58 L252.1,89.32 L252.6,89.04 L253.1,88.75 L253.6,88.43 L254.1,88.10 L254.6,87.74 L255.1,87.36 L255.6,86.93 L256.1,86.44 L256.6,85.90 L257.1,85.29 L257.6,84.63 L258.1,83.87 L258.6,83.00 L259.1,82.04 L259.6,81.03 L260.1,79.99 L260.6,78.83 L261.1,77.55 L261.6,76.25 L262.1,75.03 L262.6,74.01 L263.1,73.14 L263.6,72.34 L264.1,71.61 L264.6,70.93 L265.1,70.29 L265.6,69.67 L266.1,69.09 L266.6,68.54 L267.1,68.03 L267.6,67.55 L268.1,67.11 L268.6,66.69 L269.1,66.30 L269.6,65.93 L270.1,65.56 L270.6,65.21 L271.1,64.86 L271.6,64.53 L272.1,64.20 L272.6,63.88 L273.1,63.56 L273.6,63.26 L274.1,62.96 L274.6,62.66 L275.1,62.37 L275.6,62.09 L276.1,61.80 L276.6,61.52 L277.1,61.25 L277.6,60.98 L278.1,60.72 L278.6,60.47 L279.1,60.23 L279.6,60.00 L280.1,59.78 L280.6,59.57 L281.1,59.38 L281.6,59.19 L282.1,59.01 L282.6,58.84 L283.1,58.66 L283.6,58.49 L284.1,58.33 L284.6,58.16 L285.1,57.98 L285.6,57.81 L286.1,57.64 L286.6,57.47 L287.1,57.30 L287.6,57.13 L288.1,56.96 L288.6,56.79 L289.1,56.62 L289.6,56.45 L290.1,56.28 L290.6,56.11 L291.1,55.94 L291.6,55.76 L292.1,55.58 L292.6,55.41 L293.1,55.23 L293.6,55.05 L294.1,54.87 L294.6,54.69 L295.1,54.51 L295.6,54.33 L296.1,54.16 L296.6,53.98 L297.1,53.80 L297.6,53.63 L298.1,53.46 L298.6,53.29 L299.1,53.12 L299.6,52.95 L300.1,52.78 L300.6,52.62 L301.1,52.46 L301.6,52.30 L302.1,52.13 L302.6,51.98 L303.1,51.82 L303.6,51.66 L304.1,51.50 L304.6,51.35 L305.1,51.19 L305.6,51.04 L306.1,50.88 L306.6,50.73 L307.1,50.58 L307.6,50.43 L308.1,50.28 L308.6,50.13 L309.1,49.98 L309.6,49.83 L310.1,49.69 L310.6,49.54 L311.1,49.39 L311.6,49.25 L312.1,49.10 L312.6,48.96 L313.1,48.81 L313.6,48.67 L314.1,48.52 L314.6,48.38 L315.1,48.24 L315.6,48.10 L316.1,47.96 L316.6,47.82 L317.1,47.69 L317.6,47.55 L318.1,47.41 L318.6,47.28 L319.1,47.15 L319.6,47.02 L320.1,46.89 L320.6,46.76 L321.1,46.63 L321.6,46.51 L322.1,46.38 L322.6,46.26 L323.1,46.14 L323.6,46.02 L324.1,45.90 L324.6,45.78 L325.1,45.66 L325.6,45.54 L326.1,45.42 L326.6,45.31 L327.1,45.19 L327.6,45.07 L328.1,44.96 L328.6,44.84 L329.1,44.72 L329.6,44.61 L330.1,44.49 L330.6,44.37 L331.1,44.25 L331.6,44.14 L332.1,44.02 L332.6,43.90 L333.1,43.78 L333.6,43.67 L334.1,43.55 L334.6,43.44 L335.1,43.32 L335.6,43.20 L336.1,43.09 L336.6,42.97 L337.1,42.86 L337.6,42.75 L338.1,42.63 L338.6,42.52 L339.1,42.41 L339.6,42.30 L340.1,42.19 L340.6,42.08 L341.1,41.97 L341.6,41.86 L342.1,41.76 L342.6,41.65 L343.1,41.55 L343.6,41.44 L344.1,41.34 L344.6,41.23 L345.1,41.13 L345.6,41.02 L346.1,40.92 L346.6,40.82 L347.1,40.71 L347.6,40.61 L348.1,40.51 L348.6,40.40 L349.1,40.30 L349.6,40.19 L350.1,40.09 L350.6,39.98 L351.1,39.88 L351.6,39.77 L352.1,39.67 L352.6,39.56 L353.1,39.46 L353.6,39.35 L354.1,39.25 L354.6,39.14 L355.1,39.04 L355.6,38.93 L356.1,38.83 L356.6,38.72 L357.1,38.62 L357.6,38.51 L358.1,38.41 L358.6,38.30 L359.1,38.20 L359.6,38.09 L360.1,37.99 L360.6,37.88 L361.1,37.78 L361.6,37.68 L362.1,37.57 L362.6,37.47 L363.1,37.36 L363.6,37.26 L364.1,37.15 L364.6,37.05 L365.1,36.95 L365.6,36.84 L366.1,36.74 L366.6,36.63 L367.1,36.53 L367.6,36.42 L368.1,36.32 L368.6,36.21 L369.1,36.10 L369.6,36.00 L370.1,35.89 L370.6,35.78 L371.1,35.67 L371.6,35.56 L372.1,35.46 L372.6,35.35 L373.1,35.24 L373.6,35.13 L374.1,35.02 L374.6,34.91 L375.1,34.80 L375.6,34.68 L376.1,34.57 L376.6,34.46 L377.1,34.35 L377.6,34.24 L378.1,34.13 L378.6,34.02 L379.1,33.91 L379.6,33.80 L380.1,33.69 L380.6,33.58 L381.1,33.47 L381.6,33.36 L382.1,33.25 L382.6,33.14 L383.1,33.03 L383.6,32.92 L384.1,32.81 L384.6,32.70 L385.1,32.59 L385.6,32.48 L386.1,32.37 L386.6,32.26 L387.1,32.15 L387.6,32.04 L388.1,31.93 L388.6,31.82 L389.1,31.71 L389.6,31.60 L390.1,31.49 L390.6,31.38 L391.1,31.27 L391.6,31.16 L392.1,31.05 L392.6,30.94 L393.1,30.84 L393.6,30.73 L394.1,30.62 L394.6,30.51 L395.1,30.40 L395.6,30.29 L396.1,30.19 L396.6,30.08 L397.1,29.97 L397.6,29.86 L398.1,29.75 L398.6,29.65 L399.1,29.54 L399.6,29.43 L400.1,29.32 L400.6,29.21 L401.1,29.11 L401.6,29.00 L402.1,28.89 L402.6,28.79 L403.1,28.68 L403.6,28.57 L404.4,28.40" stroke="#4f6f25"/>
<path d="M54.0,364.10 L54.5,364.05 L55.0,364.01 L55.5,363.96 L56.0,363.91 L56.5,363.87 L57.0,363.82 L57.5,363.77 L58.0,363.72 L58.5,363.66 L59.0,363.61 L59.5,363.56 L60.0,363.51 L60.5,363.45 L61.0,363.40 L61.5,363.34 L62.0,363.28 L62.5,363.23 L63.0,363.17 L63.5,363.11 L64.0,363.05 L64.5,362.99 L65.0,362.93 L65.5,362.87 L66.0,362.81 L66.5,362.75 L67.0,362.68 L67.5,362.62 L68.0,362.56 L68.5,362.49 L69.0,362.43 L69.5,362.36 L70.0,362.29 L70.5,362.23 L71.0,362.16 L71.5,362.09 L72.0,362.02 L72.5,361.95 L73.0,361.88 L73.5,361.81 L74.0,361.74 L74.5,361.66 L75.0,361.59 L75.5,361.51 L76.0,361.44 L76.5,361.36 L77.0,361.28 L77.5,361.20 L78.0,361.13 L78.5,361.05 L79.0,360.97 L79.5,360.88 L80.0,360.80 L80.5,360.72 L81.0,360.64 L81.5,360.55 L82.0,360.47 L82.5,360.38 L83.0,360.29 L83.5,360.20 L84.0,360.12 L84.5,360.03 L85.0,359.94 L85.5,359.85 L86.0,359.75 L86.5,359.66 L87.0,359.57 L87.5,359.47 L88.0,359.38 L88.5,359.28 L89.0,359.19 L89.5,359.09 L90.0,358.99 L90.5,358.89 L91.0,358.79 L91.5,358.68 L92.0,358.58 L92.5,358.47 L93.0,358.36 L93.5,358.25 L94.0,358.14 L94.5,358.02 L95.0,357.91 L95.5,357.79 L96.0,357.67 L96.5,357.55 L97.0,357.43 L97.5,357.31 L98.0,357.19 L98.5,357.06 L99.0,356.94 L99.5,356.81 L100.0,356.68 L100.5,356.56 L101.0,356.43 L101.5,356.30 L102.0,356.17 L102.5,356.04 L103.0,355.91 L103.5,355.78 L104.0,355.65 L104.5,355.52 L105.0,355.39 L105.5,355.25 L106.0,355.12 L106.5,354.98 L107.0,354.84 L107.5,354.70 L108.0,354.56 L108.5,354.42 L109.0,354.27 L109.5,354.13 L110.0,353.99 L110.5,353.84 L111.0,353.70 L111.5,353.55 L112.0,353.41 L112.5,353.26 L113.0,353.11 L113.5,352.96 L114.0,352.80 L114.5,352.65 L115.0,352.48 L115.5,352.32 L116.0,352.15 L116.5,351.98 L117.0,351.80 L117.5,351.62 L118.0,351.44 L118.5,351.25 L119.0,351.06 L119.5,350.87 L120.0,350.68 L120.5,350.49 L121.0,350.29 L121.5,350.08 L122.0,349.88 L122.5,349.67 L123.0,349.46 L123.5,349.25 L124.0,349.03 L124.5,348.80 L125.0,348.58 L125.5,348.35 L126.0,348.11 L126.5,347.87 L127.0,347.63 L127.5,347.38 L128.1,347.13 L128.6,346.87 L129.1,346.61 L129.6,346.34 L130.1,346.07 L130.6,345.80 L131.1,345.53 L131.6,345.25 L132.1,344.97 L132.6,344.68 L133.1,344.38 L133.6,344.07 L134.1,343.75 L134.6,343.42 L135.1,343.06 L135.6,342.68 L136.1,342.27 L136.6,341.83 L137.1,341.37 L137.6,340.90 L138.1,340.42 L138.6,339.94 L139.1,339.46 L139.6,339.00 L140.1,338.56 L140.6,338.12 L141.1,337.68 L141.6,337.23 L142.1,336.79 L142.6,336.36 L143.1,335.93 L143.6,335.52 L144.1,335.11 L144.6,334.73 L145.1,334.36 L145.6,334.02 L146.1,333.68 L146.6,333.35 L147.1,333.04 L147.6,332.73 L148.1,332.43 L148.6,332.13 L149.1,331.84 L149.6,331.56 L150.1,331.27 L150.6,330.99 L151.1,330.72 L151.6,330.45 L152.1,330.19 L152.6,329.93 L153.1,329.67 L153.6,329.42 L154.1,329.17 L154.6,328.92 L155.1,328.68 L155.6,328.43 L156.1,328.19 L156.6,327.96 L157.1,327.72 L157.6,327.49 L158.1,327.26 L158.6,327.04 L159.1,326.81 L159.6,326.59 L160.1,326.38 L160.6,326.16 L161.1,325.95 L161.6,325.74 L162.1,325.53 L162.6,325.33 L163.1,325.13 L163.6,324.93 L164.1,324.74 L164.6,324.56 L165.1,324.38 L165.6,324.22 L166.1,324.06 L166.6,323.91 L167.1,323.76 L167.6,323.61 L168.1,323.47 L168.6,323.33 L169.1,323.18 L169.6,323.04 L170.1,322.88 L170.6,322.73 L171.1,322.56 L171.6,322.39 L172.1,322.22 L172.6,322.05 L173.1,321.89 L173.6,321.72 L174.1,321.57 L174.6,321.42 L175.1,321.29 L175.6,321.16 L176.1,321.04 L176.6,320.93 L177.1,320.82 L177.6,320.72 L178.1,320.62 L178.6,320.51 L179.1,320.41 L179.6,320.30 L180.1,320.19 L180.6,320.07 L181.1,319.95 L181.6,319.83 L182.1,319.70 L182.6,319.58 L183.1,319.46 L183.6,319.34 L184.1,319.22 L184.6,319.10 L185.1,318.99 L185.6,318.88 L186.1,318.78 L186.6,318.68 L187.1,318.58 L187.6,318.48 L188.1,318.39 L188.6,318.29 L189.1,318.19 L189.6,318.09 L190.1,317.99 L190.6,317.88 L191.1,317.77 L191.6,317.66 L192.1,317.55 L192.6,317.44 L193.1,317.33 L193.6,317.21 L194.1,317.10 L194.6,317.00 L195.1,316.89 L195.6,316.79 L196.1,316.69 L196.6,316.59 L197.1,316.49 L197.6,316.40 L198.1,316.30 L198.6,316.20 L199.1,316.10 L199.6,316.00 L200.1,315.89 L200.6,315.78 L201.1,315.66 L201.6,315.54 L202.1,315.41 L202.6,315.28 L203.1,315.16 L203.6,315.02 L204.1,314.89 L204.6,314.76 L205.1,314.62 L205.6,314.49 L206.1,314.35 L206.6,314.22 L207.1,314.08 L207.6,313.95 L208.1,313.82 L208.6,313.69 L209.1,313.57 L209.6,313.45 L210.1,313.33 L210.6,313.21 L211.1,313.10 L211.6,312.98 L212.1,312.87 L212.6,312.75 L213.1,312.64 L213.6,312.53 L214.1,312.42 L214.6,312.31 L215.1,312.20 L215.6,312.10 L216.1,311.99 L216.6,311.89 L217.1,311.78 L217.6,311.68 L218.1,311.58 L218.6,311.48 L219.1,311.38 L219.6,311.28 L220.1,311.19 L220.6,311.09 L221.1,310.99 L221.6,310.89 L222.1,310.78 L222.6,310.68 L223.1,310.58 L223.6,310.48 L224.1,310.38 L224.6,310.28 L225.1,310.18 L225.6,310.08 L226.1,309.98 L226.6,309.88 L227.1,309.78 L227.6,309.69 L228.1,309.59 L228.6,309.50 L229.1,309.41 L229.6,309.31 L230.1,309.22 L230.6,309.14 L231.1,309.06 L231.6,308.98 L232.1,308.90 L232.6,308.82 L233.1,308.74 L233.6,308.66 L234.1,308.58 L234.6,308.49 L235.1,308.39 L235.6,308.29 L236.1,308.18 L236.6,308.06 L237.1,307.94 L237.6,307.81 L238.1,307.68 L238.6,307.55 L239.1,307.42 L239.6,307.29 L240.1,307.15 L240.6,307.02 L241.1,306.88 L241.6,306.75 L242.1,306.61 L242.6,306.47 L243.1,306.32 L243.6,306.18 L244.1,306.03 L244.6,305.87 L245.1,305.72 L245.6,305.56 L246.1,305.41 L246.6,305.25 L247.1,305.09 L247.6,304.93" stroke="#a020f0" stroke-dasharray="10.3 3 1.9 3.3"/>
<path d="M54.0,351.45 L54.5,351.39 L55.0,351.32 L55.5,351.26 L56.0,351.20 L56.5,351.13 L57.0,351.07 L57.5,351.01 L58.0,350.94 L58.5,350.88 L59.0,350.81 L59.5,350.75 L60.0,350.68 L60.5,350.62 L61.0,350.55 L61.5,350.49 L62.0,350.42 L62.5,350.35 L63.0,350.29 L63.5,350.22 L64.0,350.16 L64.5,350.09 L65.0,350.02 L65.5,349.96 L66.0,349.89 L66.5,349.82 L67.0,349.75 L67.5,349.69 L68.0,349.62 L68.5,349.55 L69.0,349.48 L69.5,349.41 L70.0,349.34 L70.5,349.27 L71.0,349.20 L71.5,349.14 L72.0,349.07 L72.5,349.00 L73.0,348.92 L73.5,348.85 L74.0,348.78 L74.5,348.71 L75.0,348.64 L75.5,348.57 L76.0,348.50 L76.5,348.43 L77.0,348.35 L77.5,348.28 L78.0,348.21 L78.5,348.14 L79.0,348.06 L79.5,347.99 L80.0,347.92 L80.5,347.84 L81.0,347.77 L81.5,347.70 L82.0,347.62 L82.5,347.55 L83.0,347.48 L83.5,347.40 L84.0,347.33 L84.5,347.26 L85.0,347.18 L85.5,347.11 L86.0,347.03 L86.5,346.96 L87.0,346.89 L87.5,346.81 L88.0,346.74 L88.5,346.66 L89.0,346.59 L89.5,346.52 L90.0,346.44 L90.5,346.37 L91.0,346.30 L91.5,346.22 L92.0,346.15 L92.5,346.08 L93.0,346.00 L93.5,345.93 L94.0,345.86 L94.5,345.79 L95.0,345.71 L95.5,345.64 L96.0,345.56 L96.5,345.49 L97.0,345.41 L97.5,345.34 L98.0,345.26 L98.5,345.18 L99.0,345.10 L99.5,345.02 L100.0,344.94 L100.5,344.86 L101.0,344.78 L101.5,344.69 L102.0,344.61 L102.5,344.53 L103.0,344.44 L103.5,344.35 L104.0,344.27 L104.5,344.18 L105.0,344.09 L105.5,344.00 L106.0,343.91 L106.5,343.82 L107.0,343.73 L107.5,343.63 L108.0,343.54 L108.5,343.44 L109.0,343.34 L109.5,343.24 L110.0,343.14 L110.5,343.04 L111.0,342.93 L111.5,342.82 L112.0,342.70 L112.5,342.59 L113.0,342.47 L113.5,342.35 L114.0,342.23 L114.5,342.11 L115.0,341.98 L115.5,341.86 L116.0,341.74 L116.5,341.61 L117.0,341.49 L117.5,341.37 L118.0,341.25 L118.5,341.13 L119.0,341.01 L119.5,340.90 L120.0,340.79 L120.5,340.68 L121.0,340.58 L121.5,340.48 L122.0,340.38 L122.5,340.28 L123.0,340.18 L123.5,340.08 L124.0,339.97 L124.5,339.86 L125.0,339.74 L125.5,339.61 L126.0,339.48 L126.5,339.34 L127.0,339.19 L127.5,339.04 L128.1,338.88 L128.6,338.72 L129.1,338.54 L129.6,338.37 L130.1,338.18 L130.6,337.98 L131.1,337.77 L131.6,337.54 L132.1,337.30 L132.6,337.06 L133.1,336.80 L133.6,336.55 L134.1,336.29 L134.6,336.03 L135.1,335.77 L135.6,335.52 L136.1,335.25 L136.6,334.98 L137.1,334.71 L137.6,334.43 L138.1,334.15 L138.6,333.88 L139.1,333.60 L139.6,333.34 L140.1,333.07 L140.6,332.81 L141.1,332.54 L141.6,332.27 L142.1,332.01 L142.6,331.74 L143.1,331.49 L143.6,331.24 L144.1,331.00 L144.6,330.78 L145.1,330.58 L145.6,330.39 L146.1,330.21 L146.6,330.04 L147.1,329.87 L147.6,329.71 L148.1,329.56 L148.6,329.41 L149.1,329.27 L149.6,329.12 L150.1,328.99 L150.6,328.85 L151.1,328.72 L151.6,328.60 L152.1,328.47 L152.6,328.35 L153.1,328.24 L153.6,328.12 L154.1,328.01 L154.6,327.90 L155.1,327.79 L155.6,327.68 L156.1,327.57 L156.6,327.47 L157.1,327.37 L157.6,327.26 L158.1,327.17 L158.6,327.07 L159.1,326.97 L159.6,326.88 L160.1,326.79 L160.6,326.70 L161.1,326.62 L161.6,326.53 L162.1,326.45 L162.6,326.37 L163.1,326.29 L163.6,326.21 L164.1,326.14 L164.6,326.06 L165.1,325.99 L165.6,325.93 L166.1,325.86 L166.6,325.80 L167.1,325.74 L167.6,325.68 L168.1,325.62 L168.6,325.57 L169.1,325.51 L169.6,325.45 L170.1,325.39 L170.6,325.34 L171.1,325.28 L171.6,325.22 L172.1,325.17 L172.6,325.11 L173.1,325.06 L173.6,325.00 L174.1,324.95 L174.6,324.89 L175.1,324.84 L175.6,324.78 L176.1,324.73 L176.6,324.68 L177.1,324.62 L177.6,324.57 L178.1,324.51 L178.6,324.46 L179.1,324.40 L179.6,324.35 L180.1,324.29 L180.6,324.24 L181.1,324.18 L181.6,324.13 L182.1,324.07 L182.6,324.01 L183.1,323.96 L183.6,323.90 L184.1,323.84 L184.6,323.79 L185.1,323.73 L185.6,323.67 L186.1,323.62 L186.6,323.56 L187.1,323.51 L187.6,323.45 L188.1,323.40 L188.6,323.35 L189.1,323.30 L189.6,323.24 L190.1,323.20 L190.6,323.15 L191.1,323.10 L191.6,323.05 L192.1,323.01 L192.6,322.96 L193.1,322.92 L193.6,322.87 L194.1,322.83 L194.6,322.78 L195.1,322.74 L195.6,322.70 L196.1,322.65 L196.6,322.61 L197.1,322.57 L197.6,322.52 L198.1,322.48 L198.6,322.43 L199.1,322.39 L199.6,322.34 L200.1,322.30 L200.6,322.25 L201.1,322.20 L201.6,322.15 L202.1,322.10 L202.6,322.05 L203.1,322.00 L203.6,321.95 L204.1,321.90 L204.6,321.85 L205.1,321.80 L205.6,321.75 L206.1,321.70 L206.6,321.65 L207.1,321.60 L207.6,321.55 L208.1,321.50 L208.6,321.45 L209.1,321.40 L209.6,321.35 L210.1,321.29 L210.6,321.24 L211.1,321.19 L211.6,321.14 L212.1,321.09 L212.6,321.04 L213.1,320.99 L213.6,320.94 L214.1,320.89 L214.6,320.84 L215.1,320.79 L215.6,320.74 L216.1,320.69 L216.6,320.64 L217.1,320.59 L217.6,320.54 L218.1,320.49 L218.6,320.44 L219.1,320.39 L219.6,320.34 L220.1,320.30 L220.6,320.25 L221.1,320.20 L221.6,320.16 L222.1,320.11 L222.6,320.07 L223.1,320.03 L223.6,319.98 L224.1,319.94 L224.6,319.90 L225.1,319.86 L225.6,319.81 L226.1,319.77 L226.6,319.73 L227.1,319.68 L227.6,319.64 L228.1,319.59 L228.6,319.54 L229.1,319.50 L229.6,319.45 L230.1,319.39 L230.6,319.34 L231.1,319.29 L231.6,319.24 L232.1,319.18 L232.6,319.13 L233.1,319.07 L233.6,319.02 L234.1,318.96 L234.6,318.90 L235.1,318.85 L235.6,318.79 L236.1,318.72 L236.6,318.66 L237.1,318.60 L237.6,318.54 L238.1,318.47 L238.6,318.40 L239.1,318.33 L239.6,318.26 L240.1,318.19 L240.6,318.12 L241.1,318.05 L241.6,317.97 L242.1,317.90 L242.6,317.82 L243.1,317.75 L243.6,317.67 L244.1,317.59 L244.6,317.51 L245.1,317.42 L245.6,317.33 L246.1,317.24 L246.6,317.15 L247.1,317.05 L247.6,316.95 L248.1,316.85 L248.6,316.74 L249.1,316.63 L249.6,316.51 L250.1,316.39 L250.6,316.25 L251.1,316.10 L251.6,315.94 L252.1,315.76 L252.6,315.57 L253.1,315.38 L253.6,315.18 L254.1,314.96 L254.6,314.72 L255.1,314.47 L255.6,314.21 L256.1,313.93 L256.6,313.63 L257.1,313.31 L257.6,312.96 L258.1,312.58 L258.6,312.14 L259.1,311.69 L259.6,311.22 L260.1,310.75 L260.6,310.28 L261.1,309.78 L261.6,309.29 L262.1,308.81 L262.6,308.36 L263.1,307.92 L263.6,307.51 L264.1,307.10 L264.6,306.72 L265.1,306.37 L265.6,306.04 L266.1,305.72 L266.6,305.43 L267.1,305.14 L267.6,304.87 L268.1,304.61 L268.6,304.36 L269.1,304.12 L269.6,303.89 L270.1,303.68 L270.6,303.48 L271.1,303.29 L271.6,303.11 L272.1,302.93 L272.6,302.76 L273.1,302.59 L273.6,302.43 L274.1,302.28 L274.6,302.13 L275.1,301.99 L275.6,301.85 L276.1,301.72 L276.6,301.59 L277.1,301.47 L277.6,301.35 L278.1,301.23 L278.6,301.12 L279.1,301.01 L279.6,300.90 L280.1,300.79 L280.6,300.68 L281.1,300.58 L281.6,300.47 L282.1,300.37 L282.6,300.27 L283.1,300.17 L283.6,300.08 L284.1,299.98 L284.6,299.89 L285.1,299.79 L285.6,299.70 L286.1,299.60 L286.6,299.51 L287.1,299.42 L287.6,299.33 L288.1,299.24 L288.6,299.15 L289.1,299.06 L289.6,298.98 L290.1,298.89 L290.6,298.81 L291.1,298.72 L291.6,298.64 L292.1,298.56 L292.6,298.48 L293.1,298.40 L293.6,298.32 L294.1,298.24 L294.6,298.17 L295.1,298.09 L295.6,298.02 L296.1,297.95 L296.6,297.87 L297.1,297.80 L297.6,297.73 L298.1,297.67 L298.6,297.60 L299.1,297.53 L299.6,297.46 L300.1,297.39 L300.6,297.33 L301.1,297.26 L301.6,297.19 L302.1,297.12 L302.6,297.06 L303.1,296.99 L303.6,296.93 L304.1,296.86 L304.6,296.80 L305.1,296.73 L305.6,296.67 L306.1,296.60 L306.6,296.54 L307.1,296.47 L307.6,296.41 L308.1,296.35 L308.6,296.28 L309.1,296.22 L309.6,296.16 L310.1,296.09 L310.6,296.03 L311.1,295.97 L311.6,295.91 L312.1,295.85 L312.6,295.78 L313.1,295.72 L313.6,295.66 L314.1,295.60 L314.6,295.54 L315.1,295.48 L315.6,295.42 L316.1,295.36 L316.6,295.30 L317.1,295.24 L317.6,295.18 L318.1,295.13 L318.6,295.07 L319.1,295.01 L319.6,294.95 L320.1,294.89 L320.6,294.84 L321.1,294.78 L321.6,294.72 L322.1,294.67 L322.6,294.61 L323.1,294.56 L323.6,294.50 L324.1,294.45 L324.6,294.39 L325.1,294.34 L325.6,294.29 L326.1,294.23 L326.6,294.18 L327.1,294.12 L327.6,294.07 L328.1,294.01 L328.6,293.96 L329.1,293.91 L329.6,293.85 L330.1,293.79 L330.6,293.74 L331.1,293.68 L331.6,293.63 L332.1,293.57 L332.6,293.52 L333.1,293.46 L333.6,293.40 L334.1,293.35 L334.6,293.29 L335.1,293.24 L335.6,293.18 L336.1,293.12 L336.6,293.07 L337.1,293.01 L337.6,292.95 L338.1,292.90 L338.6,292.84 L339.1,292.78 L339.6,292.73 L340.1,292.67 L340.6,292.62 L341.1,292.56 L341.6,292.50 L342.1,292.45 L342.6,292.39 L343.1,292.33 L343.6,292.28 L344.1,292.22 L344.6,292.16 L345.1,292.11 L345.6,292.05 L346.1,291.99 L346.6,291.94 L347.1,291.88 L347.6,291.82 L348.1,291.76 L348.6,291.71 L349.1,291.65 L349.6,291.59 L350.1,291.54 L350.6,291.48 L351.1,291.42 L351.6,291.37 L352.1,291.31 L352.6,291.25 L353.1,291.19 L353.6,291.14 L354.1,291.08 L354.6,291.02 L355.1,290.97 L355.6,290.91 L356.1,290.85 L356.6,290.80 L357.1,290.74 L357.6,290.68 L358.1,290.62 L358.6,290.57 L359.1,290.51 L359.6,290.45 L360.1,290.39 L360.6,290.34 L361.1,290.28 L361.6,290.22 L362.1,290.17 L362.6,290.11 L363.1,290.05 L363.6,289.99 L364.1,289.94 L364.6,289.88 L365.1,289.82 L365.6,289.77 L366.1,289.71 L366.6,289.65 L367.1,289.59 L367.6,289.54 L368.1,289.48 L368.6,289.42 L369.1,289.37 L369.6,289.31 L370.1,289.25 L370.6,289.19 L371.1,289.14 L371.6,289.08 L372.1,289.02 L372.6,288.96 L373.1,288.91 L373.6,288.85 L374.1,288.79 L374.6,288.74 L375.1,288.68 L375.6,288.62 L376.1,288.56 L376.6,288.51 L377.1,288.45 L377.6,288.39 L378.1,288.33 L378.6,288.28 L379.1,288.22 L379.6,288.16 L380.1,288.10 L380.6,288.05 L381.1,287.99 L381.6,287.93 L382.1,287.87 L382.6,287.82 L383.1,287.76 L383.6,287.70 L384.1,287.64 L384.6,287.59 L385.1,287.53 L385.6,287.47 L386.1,287.41 L386.6,287.36 L387.1,287.30 L387.6,287.24 L388.1,287.18 L388.6,287.13 L389.1,287.07 L389.6,287.01 L390.1,286.95 L390.6,286.90 L391.1,286.84 L391.6,286.78 L392.1,286.72 L392.6,286.67 L393.1,286.61 L393.6,286.55 L394.1,286.49 L394.6,286.43 L395.1,286.38 L395.6,286.32 L396.1,286.26 L396.6,286.20 L397.1,286.15 L397.6,286.09 L398.1,286.03 L398.6,285.97 L399.1,285.91 L399.6,285.86 L400.1,285.80 L400.6,285.74 L401.1,285.68 L401.6,285.62 L402.1,285.57 L402.6,285.51 L403.1,285.45 L403.6,285.39 L404.4,285.30" stroke="#0000ff" stroke-dasharray="6.9 3.1"/>
<path d="M54.0,351.20 L54.5,351.14 L55.0,351.07 L55.5,351.01 L56.0,350.95 L56.5,350.88 L57.0,350.82 L57.5,350.76 L58.0,350.69 L58.5,350.63 L59.0,350.56 L59.5,350.50 L60.0,350.43 L60.5,350.37 L61.0,350.30 L61.5,350.24 L62.0,350.17 L62.5,350.10 L63.0,350.04 L63.5,349.97 L64.0,349.91 L64.5,349.84 L65.0,349.77 L65.5,349.71 L66.0,349.64 L66.5,349.57 L67.0,349.50 L67.5,349.44 L68.0,349.37 L68.5,349.30 L69.0,349.23 L69.5,349.16 L70.0,349.09 L70.5,349.02 L71.0,348.95 L71.5,348.89 L72.0,348.82 L72.5,348.75 L73.0,348.67 L73.5,348.60 L74.0,348.53 L74.5,348.46 L75.0,348.39 L75.5,348.32 L76.0,348.25 L76.5,348.18 L77.0,348.10 L77.5,348.03 L78.0,347.96 L78.5,347.89 L79.0,347.81 L79.5,347.74 L80.0,347.67 L80.5,347.59 L81.0,347.52 L81.5,347.45 L82.0,347.37 L82.5,347.30 L83.0,347.23 L83.5,347.15 L84.0,347.08 L84.5,347.01 L85.0,346.93 L85.5,346.86 L86.0,346.78 L86.5,346.71 L87.0,346.64 L87.5,346.56 L88.0,346.49 L88.5,346.41 L89.0,346.34 L89.5,346.27 L90.0,346.19 L90.5,346.12 L91.0,346.05 L91.5,345.97 L92.0,345.90 L92.5,345.83 L93.0,345.75 L93.5,345.68 L94.0,345.61 L94.5,345.54 L95.0,345.46 L95.5,345.39 L96.0,345.31 L96.5,345.24 L97.0,345.16 L97.5,345.09 L98.0,345.01 L98.5,344.93 L99.0,344.85 L99.5,344.77 L100.0,344.69 L100.5,344.61 L101.0,344.53 L101.5,344.44 L102.0,344.36 L102.5,344.28 L103.0,344.19 L103.5,344.11 L104.0,344.02 L104.5,343.93 L105.0,343.84 L105.5,343.75 L106.0,343.66 L106.5,343.57 L107.0,343.48 L107.5,343.38 L108.0,343.29 L108.5,343.19 L109.0,343.09 L109.5,342.99 L110.0,342.89 L110.5,342.78 L111.0,342.68 L111.5,342.56 L112.0,342.45 L112.5,342.33 L113.0,342.21 L113.5,342.09 L114.0,341.97 L114.5,341.84 L115.0,341.72 L115.5,341.59 L116.0,341.46 L116.5,341.34 L117.0,341.21 L117.5,341.09 L118.0,340.96 L118.5,340.84 L119.0,340.72 L119.5,340.60 L120.0,340.49 L120.5,340.38 L121.0,340.27 L121.5,340.17 L122.0,340.06 L122.5,339.96 L123.0,339.85 L123.5,339.75 L124.0,339.63 L124.5,339.51 L125.0,339.39 L125.5,339.25 L126.0,339.11 L126.5,338.97 L127.0,338.81 L127.5,338.66 L128.1,338.49 L128.6,338.32 L129.1,338.15 L129.6,337.97 L130.1,337.78 L130.6,337.59 L131.1,337.38 L131.6,337.17 L132.1,336.94 L132.6,336.71 L133.1,336.47 L133.6,336.23 L134.1,335.98 L134.6,335.73 L135.1,335.47 L135.6,335.21 L136.1,334.94 L136.6,334.66 L137.1,334.37 L137.6,334.07 L138.1,333.78 L138.6,333.48 L139.1,333.17 L139.6,332.87 L140.1,332.57 L140.6,332.27 L141.1,331.95 L141.6,331.64 L142.1,331.32 L142.6,331.00 L143.1,330.68 L143.6,330.37 L144.1,330.06 L144.6,329.76 L145.1,329.47 L145.6,329.19 L146.1,328.91 L146.6,328.64 L147.1,328.37 L147.6,328.11 L148.1,327.85 L148.6,327.60 L149.1,327.35 L149.6,327.11 L150.1,326.88 L150.6,326.65 L151.1,326.42 L151.6,326.20 L152.1,325.98 L152.6,325.77 L153.1,325.56 L153.6,325.35 L154.1,325.16 L154.6,324.97 L155.1,324.78 L155.6,324.60 L156.1,324.43 L156.6,324.26 L157.1,324.09 L157.6,323.93 L158.1,323.77 L158.6,323.62 L159.1,323.47 L159.6,323.33 L160.1,323.19 L160.6,323.05 L161.1,322.92 L161.6,322.79 L162.1,322.67 L162.6,322.55 L163.1,322.43 L163.6,322.31 L164.1,322.20 L164.6,322.09 L165.1,321.99 L165.6,321.89 L166.1,321.80 L166.6,321.70 L167.1,321.62 L167.6,321.53 L168.1,321.45 L168.6,321.36 L169.1,321.27 L169.6,321.18 L170.1,321.09 L170.6,321.00 L171.1,320.90 L171.6,320.80 L172.1,320.70 L172.6,320.60 L173.1,320.49 L173.6,320.39 L174.1,320.28 L174.6,320.18 L175.1,320.08 L175.6,319.97 L176.1,319.87 L176.6,319.77 L177.1,319.66 L177.6,319.56 L178.1,319.47 L178.6,319.37 L179.1,319.27 L179.6,319.18 L180.1,319.09 L180.6,319.00 L181.1,318.92 L181.6,318.84 L182.1,318.76 L182.6,318.68 L183.1,318.60 L183.6,318.52 L184.1,318.45 L184.6,318.37 L185.1,318.30 L185.6,318.22 L186.1,318.15 L186.6,318.07 L187.1,317.99 L187.6,317.91 L188.1,317.83 L188.6,317.75 L189.1,317.67 L189.6,317.58 L190.1,317.49 L190.6,317.40 L191.1,317.30 L191.6,317.21 L192.1,317.11 L192.6,317.01 L193.1,316.91 L193.6,316.81 L194.1,316.70 L194.6,316.60 L195.1,316.49 L195.6,316.38 L196.1,316.28 L196.6,316.17 L197.1,316.06 L197.6,315.95 L198.1,315.84 L198.6,315.72 L199.1,315.61 L199.6,315.50 L200.1,315.39 L200.6,315.28 L201.1,315.16 L201.6,315.04 L202.1,314.92 L202.6,314.80 L203.1,314.68 L203.6,314.55 L204.1,314.43 L204.6,314.31 L205.1,314.18 L205.6,314.06 L206.1,313.93 L206.6,313.81 L207.1,313.69 L207.6,313.56 L208.1,313.45 L208.6,313.33 L209.1,313.21 L209.6,313.10 L210.1,312.99 L210.6,312.88 L211.1,312.77 L211.6,312.67 L212.1,312.56 L212.6,312.46 L213.1,312.36 L213.6,312.26 L214.1,312.16 L214.6,312.06 L215.1,311.96 L215.6,311.86 L216.1,311.77 L216.6,311.67 L217.1,311.57 L217.6,311.47 L218.1,311.38 L218.6,311.28 L219.1,311.18 L219.6,311.09 L220.1,310.99 L220.6,310.89 L221.1,310.79 L221.6,310.70 L222.1,310.60 L222.6,310.50 L223.1,310.40 L223.6,310.30 L224.1,310.21 L224.6,310.11 L225.1,310.01 L225.6,309.92 L226.1,309.82 L226.6,309.73 L227.1,309.63 L227.6,309.54 L228.1,309.45 L228.6,309.36 L229.1,309.27 L229.6,309.18 L230.1,309.09 L230.6,309.01 L231.1,308.93 L231.6,308.85 L232.1,308.78 L232.6,308.70 L233.1,308.63 L233.6,308.55 L234.1,308.47 L234.6,308.38 L235.1,308.29 L235.6,308.19 L236.1,308.08 L236.6,307.97 L237.1,307.85 L237.6,307.73 L238.1,307.60 L238.6,307.48 L239.1,307.35 L239.6,307.22 L240.1,307.09 L240.6,306.96 L241.1,306.82 L241.6,306.69 L242.1,306.55 L242.6,306.42 L243.1,306.28 L243.6,306.13 L244.1,305.99 L244.6,305.84 L245.1,305.68 L245.6,305.53 L246.1,305.38 L246.6,305.23 L247.1,305.07 L247.6,304.91 L248.1,304.74 L248.6,304.57 L249.1,304.38 L249.6,304.19 L250.1,303.98 L250.6,303.76 L251.1,303.53 L251.6,303.28 L252.1,303.02 L252.6,302.74 L253.1,302.45 L253.6,302.13 L254.1,301.80 L254.6,301.44 L255.1,301.06 L255.6,300.63 L256.1,300.14 L256.6,299.60 L257.1,298.99 L257.6,298.33 L258.1,297.57 L258.6,296.70 L259.1,295.74 L259.6,294.73 L260.1,293.69 L260.6,292.53 L261.1,291.25 L261.6,289.95 L262.1,288.73 L262.6,287.71 L263.1,286.84 L263.6,286.04 L264.1,285.31 L264.6,284.63 L265.1,283.99 L265.6,283.37 L266.1,282.79 L266.6,282.24 L267.1,281.73 L267.6,281.25 L268.1,280.81 L268.6,280.39 L269.1,280.00 L269.6,279.63 L270.1,279.26 L270.6,278.91 L271.1,278.56 L271.6,278.23 L272.1,277.90 L272.6,277.58 L273.1,277.26 L273.6,276.96 L274.1,276.66 L274.6,276.36 L275.1,276.07 L275.6,275.79 L276.1,275.50 L276.6,275.22 L277.1,274.95 L277.6,274.68 L278.1,274.42 L278.6,274.17 L279.1,273.93 L279.6,273.70 L280.1,273.48 L280.6,273.27 L281.1,273.08 L281.6,272.89 L282.1,272.71 L282.6,272.54 L283.1,272.36 L283.6,272.19 L284.1,272.03 L284.6,271.86 L285.1,271.68 L285.6,271.51 L286.1,271.34 L286.6,271.17 L287.1,271.00 L287.6,270.83 L288.1,270.66 L288.6,270.49 L289.1,270.32 L289.6,270.15 L290.1,269.98 L290.6,269.81 L291.1,269.64 L291.6,269.46 L292.1,269.28 L292.6,269.11 L293.1,268.93 L293.6,268.75 L294.1,268.57 L294.6,268.39 L295.1,268.21 L295.6,268.03 L296.1,267.86 L296.6,267.68 L297.1,267.50 L297.6,267.33 L298.1,267.16 L298.6,266.99 L299.1,266.82 L299.6,266.65 L300.1,266.48 L300.6,266.32 L301.1,266.16 L301.6,266.00 L302.1,265.83 L302.6,265.68 L303.1,265.52 L303.6,265.36 L304.1,265.20 L304.6,265.05 L305.1,264.89 L305.6,264.74 L306.1,264.58 L306.6,264.43 L307.1,264.28 L307.6,264.13 L308.1,263.98 L308.6,263.83 L309.1,263.68 L309.6,263.53 L310.1,263.39 L310.6,263.24 L311.1,263.09 L311.6,262.95 L312.1,262.80 L312.6,262.66 L313.1,262.51 L313.6,262.37 L314.1,262.22 L314.6,262.08 L315.1,261.94 L315.6,261.80 L316.1,261.66 L316.6,261.52 L317.1,261.39 L317.6,261.25 L318.1,261.11 L318.6,260.98 L319.1,260.85 L319.6,260.72 L320.1,260.59 L320.6,260.46 L321.1,260.33 L321.6,260.21 L322.1,260.08 L322.6,259.96 L323.1,259.84 L323.6,259.72 L324.1,259.60 L324.6,259.48 L325.1,259.36 L325.6,259.24 L326.1,259.12 L326.6,259.01 L327.1,258.89 L327.6,258.77 L328.1,258.66 L328.6,258.54 L329.1,258.42 L329.6,258.31 L330.1,258.19 L330.6,258.07 L331.1,257.95 L331.6,257.84 L332.1,257.72 L332.6,257.60 L333.1,257.48 L333.6,257.37 L334.1,257.25 L334.6,257.14 L335.1,257.02 L335.6,256.90 L336.1,256.79 L336.6,256.67 L337.1,256.56 L337.6,256.45 L338.1,256.33 L338.6,256.22 L339.1,256.11 L339.6,256.00 L340.1,255.89 L340.6,255.78 L341.1,255.67 L341.6,255.56 L342.1,255.46 L342.6,255.35 L343.1,255.25 L343.6,255.14 L344.1,255.04 L344.6,254.93 L345.1,254.83 L345.6,254.72 L346.1,254.62 L346.6,254.52 L347.1,254.41 L347.6,254.31 L348.1,254.21 L348.6,254.10 L349.1,254.00 L349.6,253.89 L350.1,253.79 L350.6,253.68 L351.1,253.58 L351.6,253.47 L352.1,253.37 L352.6,253.26 L353.1,253.16 L353.6,253.05 L354.1,252.95 L354.6,252.84 L355.1,252.74 L355.6,252.63 L356.1,252.53 L356.6,252.42 L357.1,252.32 L357.6,252.21 L358.1,252.11 L358.6,252.00 L359.1,251.90 L359.6,251.79 L360.1,251.69 L360.6,251.58 L361.1,251.48 L361.6,251.38 L362.1,251.27 L362.6,251.17 L363.1,251.06 L363.6,250.96 L364.1,250.85 L364.6,250.75 L365.1,250.65 L365.6,250.54 L366.1,250.44 L366.6,250.33 L367.1,250.23 L367.6,250.12 L368.1,250.02 L368.6,249.91 L369.1,249.80 L369.6,249.70 L370.1,249.59 L370.6,249.48 L371.1,249.37 L371.6,249.26 L372.1,249.16 L372.6,249.05 L373.1,248.94 L373.6,248.83 L374.1,248.72 L374.6,248.61 L375.1,248.50 L375.6,248.38 L376.1,248.27 L376.6,248.16 L377.1,248.05 L377.6,247.94 L378.1,247.83 L378.6,247.72 L379.1,247.61 L379.6,247.50 L380.1,247.39 L380.6,247.28 L381.1,247.17 L381.6,247.06 L382.1,246.95 L382.6,246.84 L383.1,246.73 L383.6,246.62 L384.1,246.51 L384.6,246.40 L385.1,246.29 L385.6,246.18 L386.1,246.07 L386.6,245.96 L387.1,245.85 L387.6,245.74 L388.1,245.63 L388.6,245.52 L389.1,245.41 L389.6,245.30 L390.1,245.19 L390.6,245.08 L391.1,244.97 L391.6,244.86 L392.1,244.75 L392.6,244.64 L393.1,244.54 L393.6,244.43 L394.1,244.32 L394.6,244.21 L395.1,244.10 L395.6,243.99 L396.1,243.89 L396.6,243.78 L397.1,243.67 L397.6,243.56 L398.1,243.45 L398.6,243.35 L399.1,243.24 L399.6,243.13 L400.1,243.02 L400.6,242.91 L401.1,242.81 L401.6,242.70 L402.1,242.59 L402.6,242.49 L403.1,242.38 L403.6,242.27 L404.4,242.10" stroke="#4f6f25"/>
</g>
<g fill="none" stroke-width="1.1">
<path d="M145.1,24.5H167.1" stroke="#ff0000" stroke-dasharray="1.7 2.3"/>
<path d="M145.1,40.5H167.1" stroke="#a020f0" stroke-dasharray="10.3 3 1.9 3.3"/>
<path d="M145.1,56.5H167.1" stroke="#0000ff" stroke-dasharray="6.9 3.1"/>
<path d="M145.1,72.45H167.1" stroke="#4f6f25"/>
<path d="M145.1,242.5H167.1" stroke="#a020f0" stroke-dasharray="10.3 3 1.9 3.3"/>
<path d="M145.1,258.5H167.1" stroke="#0000ff" stroke-dasharray="6.9 3.1"/>
<path d="M145.1,274.45H167.1" stroke="#4f6f25"/>
</g>
<text transform="translate(42.57,30.00)" font-family="Liberation Sans, sans-serif" font-style="normal" font-size="12.6" fill="#000" stroke="#000" stroke-width="0.12">8</text>
<text transform="translate(25.33,35.50) scale(0.96,1)" font-family="Liberation Sans, sans-serif" font-style="normal" font-size="15.7" fill="#000" stroke="#000" stroke-width="0.12">10</text>
<text transform="translate(42.32,68.60)" font-family="Liberation Sans, sans-serif" font-style="normal" font-size="12.6" fill="#000" stroke="#000" stroke-width="0.12">4</text>
<text transform="translate(25.33,74.10) scale(0.96,1)" font-family="Liberation Sans, sans-serif" font-style="normal" font-size="15.7" fill="#000" stroke="#000" stroke-width="0.12">10</text>
<text transform="translate(42.45,107.20)" font-family="Liberation Sans, sans-serif" font-style="normal" font-size="12.6" fill="#000" stroke="#000" stroke-width="0.12">0</text>
<text transform="translate(25.33,112.70) scale(0.96,1)" font-family="Liberation Sans, sans-serif" font-style="normal" font-size="15.7" fill="#000" stroke="#000" stroke-width="0.12">10</text>
<text transform="translate(38.16,145.80)" font-family="Liberation Sans, sans-serif" font-style="normal" font-size="12.6" fill="#000" stroke="#000" stroke-width="0.12">-4</text>
<text transform="translate(21.43,151.30) scale(0.96,1)" font-family="Liberation Sans, sans-serif" font-style="normal" font-size="15.7" fill="#000" stroke="#000" stroke-width="0.12">10</text>
<text transform="translate(40.38,182.90) scale(0.96,1)" font-family="Liberation Sans, sans-serif" font-style="normal" font-size="15.7" fill="#000" stroke="#000" stroke-width="0.12">10</text>
<text transform="translate(58.07,177.90)" font-family="Liberation Sans, sans-serif" font-style="normal" font-size="12.1" fill="#000" stroke="#000" stroke-width="0.12">-5</text>
<text transform="translate(127.96,182.90) scale(0.96,1)" font-family="Liberation Sans, sans-serif" font-style="normal" font-size="15.7" fill="#000" stroke="#000" stroke-width="0.12">10</text>
<text transform="translate(145.64,177.90)" font-family="Liberation Sans, sans-serif" font-style="normal" font-size="12.1" fill="#000" stroke="#000" stroke-width="0.12">-4</text>
<text transform="translate(215.53,182.90) scale(0.96,1)" font-family="Liberation Sans, sans-serif" font-style="normal" font-size="15.7" fill="#000" stroke="#000" stroke-width="0.12">10</text>
<text transform="translate(233.22,177.90)" font-family="Liberation Sans, sans-serif" font-style="normal" font-size="12.1" fill="#000" stroke="#000" stroke-width="0.12">-3</text>
<text transform="translate(303.11,182.90) scale(0.96,1)" font-family="Liberation Sans, sans-serif" font-style="normal" font-size="15.7" fill="#000" stroke="#000" stroke-width="0.12">10</text>
<text transform="translate(320.79,177.90)" font-family="Liberation Sans, sans-serif" font-style="normal" font-size="12.1" fill="#000" stroke="#000" stroke-width="0.12">-2</text>
<text transform="translate(390.68,182.90) scale(0.96,1)" font-family="Liberation Sans, sans-serif" font-style="normal" font-size="15.7" fill="#000" stroke="#000" stroke-width="0.12">10</text>
<text transform="translate(408.37,177.90)" font-family="Liberation Sans, sans-serif" font-style="normal" font-size="12.1" fill="#000" stroke="#000" stroke-width="0.12">-1</text>
<text transform="translate(42.57,243.71)" font-family="Liberation Sans, sans-serif" font-style="normal" font-size="12.6" fill="#000" stroke="#000" stroke-width="0.12">8</text>
<text transform="translate(25.33,249.21) scale(0.96,1)" font-family="Liberation Sans, sans-serif" font-style="normal" font-size="15.7" fill="#000" stroke="#000" stroke-width="0.12">10</text>
<text transform="translate(42.32,282.32)" font-family="Liberation Sans, sans-serif" font-style="normal" font-size="12.6" fill="#000" stroke="#000" stroke-width="0.12">4</text>
<text transform="translate(25.33,287.82) scale(0.96,1)" font-family="Liberation Sans, sans-serif" font-style="normal" font-size="15.7" fill="#000" stroke="#000" stroke-width="0.12">10</text>
<text transform="translate(42.45,320.93)" font-family="Liberation Sans, sans-serif" font-style="normal" font-size="12.6" fill="#000" stroke="#000" stroke-width="0.12">0</text>
<text transform="translate(25.33,326.43) scale(0.96,1)" font-family="Liberation Sans, sans-serif" font-style="normal" font-size="15.7" fill="#000" stroke="#000" stroke-width="0.12">10</text>
<text transform="translate(38.16,359.54)" font-family="Liberation Sans, sans-serif" font-style="normal" font-size="12.6" fill="#000" stroke="#000" stroke-width="0.12">-4</text>
<text transform="translate(21.43,365.04) scale(0.96,1)" font-family="Liberation Sans, sans-serif" font-style="normal" font-size="15.7" fill="#000" stroke="#000" stroke-width="0.12">10</text>
<text transform="translate(40.38,395.80) scale(0.96,1)" font-family="Liberation Sans, sans-serif" font-style="normal" font-size="15.7" fill="#000" stroke="#000" stroke-width="0.12">10</text>
<text transform="translate(58.07,390.80)" font-family="Liberation Sans, sans-serif" font-style="normal" font-size="12.1" fill="#000" stroke="#000" stroke-width="0.12">-5</text>
<text transform="translate(127.96,395.80) scale(0.96,1)" font-family="Liberation Sans, sans-serif" font-style="normal" font-size="15.7" fill="#000" stroke="#000" stroke-width="0.12">10</text>
<text transform="translate(145.64,390.80)" font-family="Liberation Sans, sans-serif" font-style="normal" font-size="12.1" fill="#000" stroke="#000" stroke-width="0.12">-4</text>
<text transform="translate(215.53,395.80) scale(0.96,1)" font-family="Liberation Sans, sans-serif" font-style="normal" font-size="15.7" fill="#000" stroke="#000" stroke-width="0.12">10</text>
<text transform="translate(233.22,390.80)" font-family="Liberation Sans, sans-serif" font-style="normal" font-size="12.1" fill="#000" stroke="#000" stroke-width="0.12">-3</text>
<text transform="translate(303.11,395.80) scale(0.96,1)" font-family="Liberation Sans, sans-serif" font-style="normal" font-size="15.7" fill="#000" stroke="#000" stroke-width="0.12">10</text>
<text transform="translate(320.79,390.80)" font-family="Liberation Sans, sans-serif" font-style="normal" font-size="12.1" fill="#000" stroke="#000" stroke-width="0.12">-2</text>
<text transform="translate(390.68,395.80) scale(0.96,1)" font-family="Liberation Sans, sans-serif" font-style="normal" font-size="15.7" fill="#000" stroke="#000" stroke-width="0.12">10</text>
<text transform="translate(408.37,390.80)" font-family="Liberation Sans, sans-serif" font-style="normal" font-size="12.1" fill="#000" stroke="#000" stroke-width="0.12">-1</text>
<path d="M120.20,24.70H130.60M125.40,19.50V29.90" stroke="#000" stroke-width="0.75" fill="none"/>
<text transform="translate(131.90,28.50) scale(1.1305,1.0000)" font-family="Liberation Serif, serif" font-style="normal" font-size="16.5" fill="#000" stroke="#fff" stroke-width="0.08">I</text>
<path d="M112.20,40.60H121.90" stroke="#000" stroke-width="0.75" fill="none"/>
<text transform="translate(123.91,44.50) scale(0.9977,1.0000)" font-family="Liberation Serif, serif" font-style="normal" font-size="16.5" fill="#000" stroke="#fff" stroke-width="0.08">D</text>
<path d="M115.40,56.60H124.90" stroke="#000" stroke-width="0.75" fill="none"/>
<text transform="translate(126.82,60.45) scale(0.9790,1.0000)" font-family="Liberation Serif, serif" font-style="normal" font-size="16.5" fill="#000" stroke="#fff" stroke-width="0.08">L</text>
<path d="M62.35,72.60H71.90" stroke="#000" stroke-width="0.75" fill="none"/>
<text transform="translate(74.32,76.40) scale(0.8858,1.0600)" font-family="Liberation Serif, serif" font-style="normal" font-size="16.5" fill="#000" stroke="#fff" stroke-width="0.08">(</text>
<text transform="translate(79.72,76.40) scale(1.1626,1.0000)" font-family="Liberation Serif, serif" font-style="normal" font-size="16.5" fill="#000" stroke="#fff" stroke-width="0.08">F</text>
<path d="M94.70,72.60H105.10M99.90,67.40V77.80" stroke="#000" stroke-width="0.75" fill="none"/>
<text transform="translate(110.14,76.40) scale(1.1245,1.0000)" font-family="Liberation Serif, serif" font-style="normal" font-size="16.5" fill="#000" stroke="#fff" stroke-width="0.08">M</text>
<text transform="translate(127.55,76.40) scale(0.9091,1.0600)" font-family="Liberation Serif, serif" font-style="normal" font-size="16.5" fill="#000" stroke="#fff" stroke-width="0.08">)</text>
<path d="M111.70,242.50H121.00" stroke="#000" stroke-width="0.75" fill="none"/>
<text transform="translate(123.91,246.60) scale(0.9977,1.0000)" font-family="Liberation Serif, serif" font-style="normal" font-size="16.5" fill="#000" stroke="#fff" stroke-width="0.08">D</text>
<path d="M114.60,258.50H123.90" stroke="#000" stroke-width="0.75" fill="none"/>
<text transform="translate(126.72,262.55) scale(0.9790,1.0000)" font-family="Liberation Serif, serif" font-style="normal" font-size="16.5" fill="#000" stroke="#fff" stroke-width="0.08">L</text>
<path d="M61.80,274.50H72.20M67.00,269.30V279.70" stroke="#000" stroke-width="0.75" fill="none"/>
<text transform="translate(74.32,278.50) scale(0.8858,1.0600)" font-family="Liberation Serif, serif" font-style="normal" font-size="16.5" fill="#000" stroke="#fff" stroke-width="0.08">(</text>
<text transform="translate(79.72,278.50) scale(1.1626,1.0000)" font-family="Liberation Serif, serif" font-style="normal" font-size="16.5" fill="#000" stroke="#fff" stroke-width="0.08">F</text>
<path d="M94.70,274.50H105.10M99.90,269.30V279.70" stroke="#000" stroke-width="0.75" fill="none"/>
<text transform="translate(110.14,278.50) scale(1.1245,1.0000)" font-family="Liberation Serif, serif" font-style="normal" font-size="16.5" fill="#000" stroke="#fff" stroke-width="0.08">M</text>
<text transform="translate(127.55,278.50) scale(0.9091,1.0600)" font-family="Liberation Serif, serif" font-style="normal" font-size="16.5" fill="#000" stroke="#fff" stroke-width="0.08">)</text>
<text transform="translate(101.64,417.50) scale(1.0474,1.0000)" font-family="Liberation Serif, serif" font-style="normal" font-size="22" fill="#000" stroke="#fff" stroke-width="0.08">Scaled</text>
<text transform="translate(172.64,417.50) scale(1.1441,1.0000)" font-family="Liberation Serif, serif" font-style="normal" font-size="22" fill="#000" stroke="#fff" stroke-width="0.08">Rate</text>
<text transform="translate(225.56,417.50) scale(1.0702,1.0000)" font-family="Liberation Serif, serif" font-style="normal" font-size="22" fill="#000" stroke="#fff" stroke-width="0.08">of</text>
<text transform="translate(252.97,417.50) scale(1.1134,1.0000)" font-family="Liberation Serif, serif" font-style="normal" font-size="22" fill="#000" stroke="#fff" stroke-width="0.08">Pumping</text>
<text transform="translate(348.71,417.50) scale(1.1276,1.0000)" font-family="Liberation Serif, serif" font-style="normal" font-size="22" fill="#000" stroke="#fff" stroke-width="0.08">I</text>
<g transform="translate(15.4,179.6) rotate(-90)"><text transform="scale(1.0400,1)" x="-0.84 10.07 18.21 27.31 32.69 39.00 45.32 53.98 63.54 67.98 73.54 82.02 90.50 97.10 102.92 108.25" y="0" font-family="Liberation Serif, serif" font-size="17" fill="#000" stroke="#fff" stroke-width="0.08">Contributions to</text><text transform="translate(128.03,-0.32) scale(1.2926,0.9591)" font-family="Liberation Serif, serif" font-style="italic" font-size="17" fill="#000">f</text><text transform="translate(135.86,1.65) scale(1.1136,0.9720)" font-family="Liberation Serif, serif" font-style="normal" font-size="11" fill="#000">2</text><text transform="translate(174.30,1.50) scale(1.1364,0.9371)" font-family="Liberation Serif, serif" font-style="normal" font-size="11" fill="#000">2</text><text transform="translate(148.86,-7.10) scale(0.9806,0.8758)" font-family="Liberation Serif, serif" font-style="italic" font-size="11.5" fill="#000">d</text><path d="M145.4,-4.4H157.55" stroke="#000" stroke-width="0.85"/><text transform="translate(145.91,5.30) scale(1.1406,0.9068)" font-family="Liberation Serif, serif" font-style="italic" font-size="11.5" fill="#000">dt</text><circle cx="160.55" cy="-0.75" r="1.0" fill="#000"/><path d="M160.5,-0.6 Q162.0,-6.5 165.0,-11.9" stroke="#000" stroke-width="0.95" fill="none"/><path d="M164.0,-12.1 L165.9,-12.1 L170.6,-0.4 L168.7,-0.4 Z" fill="#000"/><path d="M169.6,-0.6 L174.5,-11.2 Q175.0,-12.6 176.0,-12.8" stroke="#000" stroke-width="0.95" fill="none"/><circle cx="176.05" cy="-12.7" r="0.7" fill="#000"/></g>
<g transform="translate(15.4,393.6) rotate(-90)"><text transform="scale(1.0400,1)" x="-0.84 10.07 18.21 27.31 32.69 39.00 45.32 53.98 63.54 67.98 73.54 82.02 90.50 97.10 102.92 108.25" y="0" font-family="Liberation Serif, serif" font-size="17" fill="#000" stroke="#fff" stroke-width="0.08">Contributions to</text><text transform="translate(128.03,-0.32) scale(1.2926,0.9591)" font-family="Liberation Serif, serif" font-style="italic" font-size="17" fill="#000">f</text><path d="M138.6,-4.75V1.45" stroke="#000" stroke-width="0.95" fill="none"/><path d="M137.35,1.25H139.85M138.6,-4.6L137.29999999999998,-3.75" stroke="#000" stroke-width="0.55" fill="none"/><path d="M176.45,-5.15V1.05" stroke="#000" stroke-width="0.95" fill="none"/><path d="M175.2,0.8500000000000001H177.7M176.45,-5.0L175.14999999999998,-4.15" stroke="#000" stroke-width="0.55" fill="none"/><text transform="translate(148.86,-7.10) scale(0.9806,0.8758)" font-family="Liberation Serif, serif" font-style="italic" font-size="11.5" fill="#000">d</text><path d="M145.4,-4.4H157.55" stroke="#000" stroke-width="0.85"/><text transform="translate(145.91,5.30) scale(1.1406,0.9068)" font-family="Liberation Serif, serif" font-style="italic" font-size="11.5" fill="#000">dt</text><circle cx="160.55" cy="-0.75" r="1.0" fill="#000"/><path d="M160.5,-0.6 Q162.0,-6.5 165.0,-11.9" stroke="#000" stroke-width="0.95" fill="none"/><path d="M164.0,-12.1 L165.9,-12.1 L170.6,-0.4 L168.7,-0.4 Z" fill="#000"/><path d="M169.6,-0.6 L174.5,-11.2 Q175.0,-12.6 176.0,-12.8" stroke="#000" stroke-width="0.95" fill="none"/><circle cx="176.05" cy="-12.7" r="0.7" fill="#000"/></g>
</svg>
</body></html>
